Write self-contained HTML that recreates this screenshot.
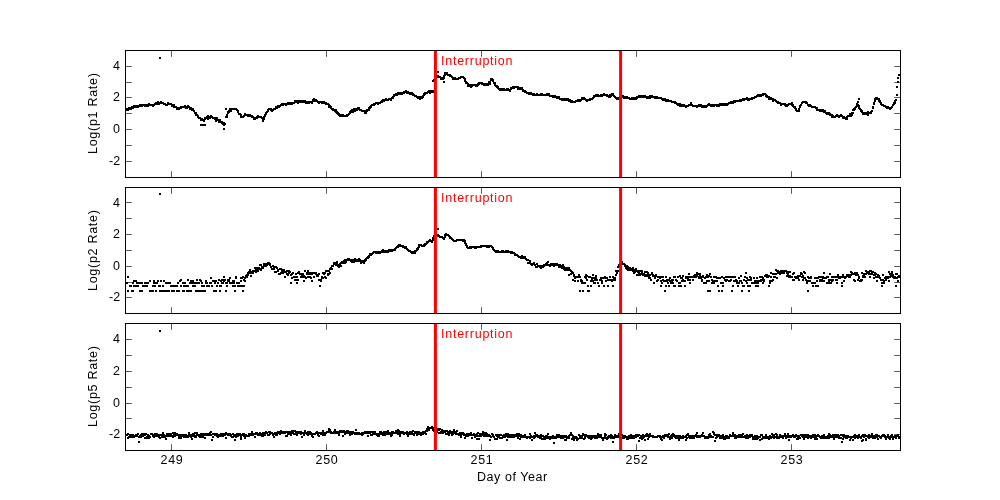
<!DOCTYPE html><html><head><meta charset="utf-8"><title>plot</title><style>
html,body{margin:0;padding:0;background:#fff}
#f{position:relative;width:1000px;height:500px;overflow:hidden;background:#fff;font-family:"Liberation Sans",sans-serif;font-size:12.5px;color:#000}
.t{position:absolute;white-space:nowrap;line-height:1;will-change:transform}
.yl{position:absolute;white-space:nowrap;line-height:1;transform-origin:0 0;transform:rotate(-90deg);will-change:transform}
</style></head><body><div id="f">
<svg width="1000" height="500" viewBox="0 0 1000 500" style="position:absolute;left:0;top:0"><rect width="1000" height="500" fill="#fff"/><path d="M126 108h2v2h-2zM126 109h2v2h-2zM127 109h2v2h-2zM128 108h2v2h-2zM128 107h2v2h-2zM129 108h2v2h-2zM129 107h2v2h-2zM130 107h2v2h-2zM130 108h2v2h-2zM131 106h2v2h-2zM131 107h2v2h-2zM132 107h2v2h-2zM133 106h2v2h-2zM133 105h2v2h-2zM134 106h2v2h-2zM134 105h2v2h-2zM135 105h2v2h-2zM135 106h2v2h-2zM136 106h2v2h-2zM137 106h2v2h-2zM137 105h2v2h-2zM138 105h2v2h-2zM139 104h2v2h-2zM140 105h2v2h-2zM141 105h2v2h-2zM141 104h2v2h-2zM142 104h2v2h-2zM143 104h2v2h-2zM144 104h2v2h-2zM144 105h2v2h-2zM145 104h2v2h-2zM146 105h2v2h-2zM146 104h2v2h-2zM147 105h2v2h-2zM148 103h2v2h-2zM149 104h2v2h-2zM150 104h2v2h-2zM151 104h2v2h-2zM152 105h2v2h-2zM153 104h2v2h-2zM154 103h2v2h-2zM155 103h2v2h-2zM155 102h2v2h-2zM156 103h2v2h-2zM156 102h2v2h-2zM157 103h2v2h-2zM157 101h2v2h-2zM158 103h2v2h-2zM158 102h2v2h-2zM159 102h2v2h-2zM160 101h2v2h-2zM160 102h2v2h-2zM161 102h2v2h-2zM162 102h2v2h-2zM163 103h2v2h-2zM164 103h2v2h-2zM165 104h2v2h-2zM166 104h2v2h-2zM167 102h2v2h-2zM167 103h2v2h-2zM168 103h2v2h-2zM169 103h2v2h-2zM170 103h2v2h-2zM171 104h2v2h-2zM171 105h2v2h-2zM172 104h2v2h-2zM173 104h2v2h-2zM173 106h2v2h-2zM174 106h2v2h-2zM175 106h2v2h-2zM176 108h2v2h-2zM176 107h2v2h-2zM177 107h2v2h-2zM178 107h2v2h-2zM178 108h2v2h-2zM179 107h2v2h-2zM180 107h2v2h-2zM180 106h2v2h-2zM181 106h2v2h-2zM182 106h2v2h-2zM183 106h2v2h-2zM184 105h2v2h-2zM184 106h2v2h-2zM185 107h2v2h-2zM185 106h2v2h-2zM186 107h2v2h-2zM187 105h2v2h-2zM187 106h2v2h-2zM188 106h2v2h-2zM189 107h2v2h-2zM189 108h2v2h-2zM190 107h2v2h-2zM190 108h2v2h-2zM191 109h2v2h-2zM191 108h2v2h-2zM192 108h2v2h-2zM193 110h2v2h-2zM194 112h2v2h-2zM195 112h2v2h-2zM195 114h2v2h-2zM196 114h2v2h-2zM197 115h2v2h-2zM197 116h2v2h-2zM198 117h2v2h-2zM199 117h2v2h-2zM200 119h2v2h-2zM201 119h2v2h-2zM201 118h2v2h-2zM202 119h2v2h-2zM203 120h2v2h-2zM203 119h2v2h-2zM204 118h2v2h-2zM204 117h2v2h-2zM205 117h2v2h-2zM206 116h2v2h-2zM207 118h2v2h-2zM207 115h2v2h-2zM208 116h2v2h-2zM209 117h2v2h-2zM209 116h2v2h-2zM210 115h2v2h-2zM210 116h2v2h-2zM211 116h2v2h-2zM212 117h2v2h-2zM213 117h2v2h-2zM214 117h2v2h-2zM214 118h2v2h-2zM215 120h2v2h-2zM215 118h2v2h-2zM216 117h2v2h-2zM216 119h2v2h-2zM217 119h2v2h-2zM218 121h2v2h-2zM218 119h2v2h-2zM219 119h2v2h-2zM220 121h2v2h-2zM221 121h2v2h-2zM221 122h2v2h-2zM222 122h2v2h-2zM222 123h2v2h-2zM223 122h2v2h-2zM223 124h2v2h-2zM224 123h2v2h-2zM225 116h2v2h-2zM226 116h2v2h-2zM226 114h2v2h-2zM227 112h2v2h-2zM227 111h2v2h-2zM228 111h2v2h-2zM228 110h2v2h-2zM229 110h2v2h-2zM229 108h2v2h-2zM230 109h2v2h-2zM230 110h2v2h-2zM231 108h2v2h-2zM232 108h2v2h-2zM233 108h2v2h-2zM234 108h2v2h-2zM235 108h2v2h-2zM236 109h2v2h-2zM237 110h2v2h-2zM237 111h2v2h-2zM238 113h2v2h-2zM239 113h2v2h-2zM240 114h2v2h-2zM240 116h2v2h-2zM241 116h2v2h-2zM242 116h2v2h-2zM243 115h2v2h-2zM244 114h2v2h-2zM244 113h2v2h-2zM245 114h2v2h-2zM246 114h2v2h-2zM247 115h2v2h-2zM247 114h2v2h-2zM248 115h2v2h-2zM248 114h2v2h-2zM249 114h2v2h-2zM249 115h2v2h-2zM250 115h2v2h-2zM251 116h2v2h-2zM251 115h2v2h-2zM252 116h2v2h-2zM253 117h2v2h-2zM253 118h2v2h-2zM254 118h2v2h-2zM254 117h2v2h-2zM255 117h2v2h-2zM256 117h2v2h-2zM256 116h2v2h-2zM257 116h2v2h-2zM257 115h2v2h-2zM258 116h2v2h-2zM259 116h2v2h-2zM260 116h2v2h-2zM261 117h2v2h-2zM262 120h2v2h-2zM262 118h2v2h-2zM263 118h2v2h-2zM263 116h2v2h-2zM264 115h2v2h-2zM264 114h2v2h-2zM265 113h2v2h-2zM265 112h2v2h-2zM266 111h2v2h-2zM267 109h2v2h-2zM267 110h2v2h-2zM268 108h2v2h-2zM269 108h2v2h-2zM270 109h2v2h-2zM270 108h2v2h-2zM271 110h2v2h-2zM271 109h2v2h-2zM272 109h2v2h-2zM273 108h2v2h-2zM274 108h2v2h-2zM275 107h2v2h-2zM275 106h2v2h-2zM276 107h2v2h-2zM276 106h2v2h-2zM277 105h2v2h-2zM278 106h2v2h-2zM278 105h2v2h-2zM279 105h2v2h-2zM280 104h2v2h-2zM281 104h2v2h-2zM281 103h2v2h-2zM282 104h2v2h-2zM283 103h2v2h-2zM284 103h2v2h-2zM285 104h2v2h-2zM285 103h2v2h-2zM286 103h2v2h-2zM287 103h2v2h-2zM287 102h2v2h-2zM288 102h2v2h-2zM288 103h2v2h-2zM289 102h2v2h-2zM290 102h2v2h-2zM290 103h2v2h-2zM291 103h2v2h-2zM291 102h2v2h-2zM292 102h2v2h-2zM293 102h2v2h-2zM294 100h2v2h-2zM294 101h2v2h-2zM295 100h2v2h-2zM295 101h2v2h-2zM296 100h2v2h-2zM297 101h2v2h-2zM297 102h2v2h-2zM298 101h2v2h-2zM298 100h2v2h-2zM299 101h2v2h-2zM300 100h2v2h-2zM300 101h2v2h-2zM301 100h2v2h-2zM302 100h2v2h-2zM302 101h2v2h-2zM303 101h2v2h-2zM304 101h2v2h-2zM304 100h2v2h-2zM305 101h2v2h-2zM305 102h2v2h-2zM306 102h2v2h-2zM307 101h2v2h-2zM308 102h2v2h-2zM308 101h2v2h-2zM309 101h2v2h-2zM310 101h2v2h-2zM311 102h2v2h-2zM311 101h2v2h-2zM312 99h2v2h-2zM312 100h2v2h-2zM313 98h2v2h-2zM314 100h2v2h-2zM314 99h2v2h-2zM315 99h2v2h-2zM316 100h2v2h-2zM317 101h2v2h-2zM318 101h2v2h-2zM318 102h2v2h-2zM319 101h2v2h-2zM320 101h2v2h-2zM321 101h2v2h-2zM321 102h2v2h-2zM322 102h2v2h-2zM323 101h2v2h-2zM323 102h2v2h-2zM324 102h2v2h-2zM325 103h2v2h-2zM325 102h2v2h-2zM326 103h2v2h-2zM327 103h2v2h-2zM328 104h2v2h-2zM328 106h2v2h-2zM329 105h2v2h-2zM329 106h2v2h-2zM330 106h2v2h-2zM330 107h2v2h-2zM331 108h2v2h-2zM332 108h2v2h-2zM332 109h2v2h-2zM333 109h2v2h-2zM334 109h2v2h-2zM334 110h2v2h-2zM335 109h2v2h-2zM335 111h2v2h-2zM336 111h2v2h-2zM336 112h2v2h-2zM337 112h2v2h-2zM337 113h2v2h-2zM338 113h2v2h-2zM338 114h2v2h-2zM339 114h2v2h-2zM339 115h2v2h-2zM340 114h2v2h-2zM341 115h2v2h-2zM341 114h2v2h-2zM342 114h2v2h-2zM343 115h2v2h-2zM344 115h2v2h-2zM345 115h2v2h-2zM346 115h2v2h-2zM346 114h2v2h-2zM347 114h2v2h-2zM348 113h2v2h-2zM349 112h2v2h-2zM349 111h2v2h-2zM350 110h2v2h-2zM351 109h2v2h-2zM351 111h2v2h-2zM352 109h2v2h-2zM352 111h2v2h-2zM353 108h2v2h-2zM354 110h2v2h-2zM354 109h2v2h-2zM355 108h2v2h-2zM355 109h2v2h-2zM356 109h2v2h-2zM357 107h2v2h-2zM357 108h2v2h-2zM358 108h2v2h-2zM358 107h2v2h-2zM359 109h2v2h-2zM360 109h2v2h-2zM361 110h2v2h-2zM362 110h2v2h-2zM363 110h2v2h-2zM364 111h2v2h-2zM364 112h2v2h-2zM365 112h2v2h-2zM365 110h2v2h-2zM366 110h2v2h-2zM366 109h2v2h-2zM367 109h2v2h-2zM368 109h2v2h-2zM368 107h2v2h-2zM369 107h2v2h-2zM369 106h2v2h-2zM370 106h2v2h-2zM370 105h2v2h-2zM371 104h2v2h-2zM372 104h2v2h-2zM373 104h2v2h-2zM373 103h2v2h-2zM374 103h2v2h-2zM375 102h2v2h-2zM376 102h2v2h-2zM377 103h2v2h-2zM377 102h2v2h-2zM378 102h2v2h-2zM379 102h2v2h-2zM380 101h2v2h-2zM381 101h2v2h-2zM381 100h2v2h-2zM382 100h2v2h-2zM382 99h2v2h-2zM383 100h2v2h-2zM383 99h2v2h-2zM384 99h2v2h-2zM385 99h2v2h-2zM385 98h2v2h-2zM386 99h2v2h-2zM387 99h2v2h-2zM388 98h2v2h-2zM389 98h2v2h-2zM390 99h2v2h-2zM390 98h2v2h-2zM391 97h2v2h-2zM392 97h2v2h-2zM392 96h2v2h-2zM393 95h2v2h-2zM393 94h2v2h-2zM394 94h2v2h-2zM395 94h2v2h-2zM395 93h2v2h-2zM396 94h2v2h-2zM396 93h2v2h-2zM397 92h2v2h-2zM397 93h2v2h-2zM398 93h2v2h-2zM399 92h2v2h-2zM399 93h2v2h-2zM400 92h2v2h-2zM401 93h2v2h-2zM402 92h2v2h-2zM403 92h2v2h-2zM403 91h2v2h-2zM404 91h2v2h-2zM405 90h2v2h-2zM405 91h2v2h-2zM406 91h2v2h-2zM406 92h2v2h-2zM407 91h2v2h-2zM408 92h2v2h-2zM409 92h2v2h-2zM409 93h2v2h-2zM410 92h2v2h-2zM410 93h2v2h-2zM411 92h2v2h-2zM411 93h2v2h-2zM412 93h2v2h-2zM412 94h2v2h-2zM413 94h2v2h-2zM414 95h2v2h-2zM415 95h2v2h-2zM416 96h2v2h-2zM417 97h2v2h-2zM418 96h2v2h-2zM419 98h2v2h-2zM419 96h2v2h-2zM420 96h2v2h-2zM420 97h2v2h-2zM421 97h2v2h-2zM422 96h2v2h-2zM422 95h2v2h-2zM423 94h2v2h-2zM423 93h2v2h-2zM424 93h2v2h-2zM424 92h2v2h-2zM425 92h2v2h-2zM426 92h2v2h-2zM427 91h2v2h-2zM428 90h2v2h-2zM429 92h2v2h-2zM429 90h2v2h-2zM430 91h2v2h-2zM430 90h2v2h-2zM431 91h2v2h-2zM432 90h2v2h-2zM432 91h2v2h-2zM432 80h2v2h-2zM433 79h2v2h-2zM434 78h2v2h-2zM434 77h2v2h-2zM435 77h2v2h-2zM435 76h2v2h-2zM436 76h2v2h-2zM436 75h2v2h-2zM437 75h2v2h-2zM438 76h2v2h-2zM439 76h2v2h-2zM440 78h2v2h-2zM441 77h2v2h-2zM441 78h2v2h-2zM442 78h2v2h-2zM443 77h2v2h-2zM443 75h2v2h-2zM444 74h2v2h-2zM444 72h2v2h-2zM445 72h2v2h-2zM446 73h2v2h-2zM446 72h2v2h-2zM447 74h2v2h-2zM448 74h2v2h-2zM449 74h2v2h-2zM449 75h2v2h-2zM450 75h2v2h-2zM451 76h2v2h-2zM452 78h2v2h-2zM453 77h2v2h-2zM453 78h2v2h-2zM454 78h2v2h-2zM454 77h2v2h-2zM455 78h2v2h-2zM456 78h2v2h-2zM457 78h2v2h-2zM458 77h2v2h-2zM459 77h2v2h-2zM460 76h2v2h-2zM461 76h2v2h-2zM462 76h2v2h-2zM463 77h2v2h-2zM464 78h2v2h-2zM464 80h2v2h-2zM465 81h2v2h-2zM465 82h2v2h-2zM466 82h2v2h-2zM467 83h2v2h-2zM467 85h2v2h-2zM468 85h2v2h-2zM468 84h2v2h-2zM469 84h2v2h-2zM469 85h2v2h-2zM470 85h2v2h-2zM470 86h2v2h-2zM471 84h2v2h-2zM471 85h2v2h-2zM472 84h2v2h-2zM473 84h2v2h-2zM474 84h2v2h-2zM475 84h2v2h-2zM475 85h2v2h-2zM476 85h2v2h-2zM476 84h2v2h-2zM477 84h2v2h-2zM477 83h2v2h-2zM478 82h2v2h-2zM478 83h2v2h-2zM479 82h2v2h-2zM480 82h2v2h-2zM481 82h2v2h-2zM481 83h2v2h-2zM482 83h2v2h-2zM483 83h2v2h-2zM483 84h2v2h-2zM484 84h2v2h-2zM485 84h2v2h-2zM485 83h2v2h-2zM486 84h2v2h-2zM487 84h2v2h-2zM487 83h2v2h-2zM488 81h2v2h-2zM488 82h2v2h-2zM489 83h2v2h-2zM489 81h2v2h-2zM490 79h2v2h-2zM490 78h2v2h-2zM491 78h2v2h-2zM492 79h2v2h-2zM492 80h2v2h-2zM493 82h2v2h-2zM494 82h2v2h-2zM494 84h2v2h-2zM495 85h2v2h-2zM496 85h2v2h-2zM496 86h2v2h-2zM497 86h2v2h-2zM497 87h2v2h-2zM498 88h2v2h-2zM499 89h2v2h-2zM500 88h2v2h-2zM501 89h2v2h-2zM501 88h2v2h-2zM502 89h2v2h-2zM502 88h2v2h-2zM503 88h2v2h-2zM504 89h2v2h-2zM505 89h2v2h-2zM506 88h2v2h-2zM507 89h2v2h-2zM507 88h2v2h-2zM508 89h2v2h-2zM509 89h2v2h-2zM509 90h2v2h-2zM510 88h2v2h-2zM510 87h2v2h-2zM511 87h2v2h-2zM512 87h2v2h-2zM512 86h2v2h-2zM513 87h2v2h-2zM514 86h2v2h-2zM515 86h2v2h-2zM516 86h2v2h-2zM517 86h2v2h-2zM517 88h2v2h-2zM518 88h2v2h-2zM519 87h2v2h-2zM519 88h2v2h-2zM520 88h2v2h-2zM521 87h2v2h-2zM521 88h2v2h-2zM522 90h2v2h-2zM522 89h2v2h-2zM523 90h2v2h-2zM524 91h2v2h-2zM524 90h2v2h-2zM525 91h2v2h-2zM526 92h2v2h-2zM527 92h2v2h-2zM528 93h2v2h-2zM528 92h2v2h-2zM529 92h2v2h-2zM529 93h2v2h-2zM530 93h2v2h-2zM530 92h2v2h-2zM531 93h2v2h-2zM532 94h2v2h-2zM532 93h2v2h-2zM533 93h2v2h-2zM534 94h2v2h-2zM535 94h2v2h-2zM536 94h2v2h-2zM536 93h2v2h-2zM537 94h2v2h-2zM538 94h2v2h-2zM539 94h2v2h-2zM540 93h2v2h-2zM541 93h2v2h-2zM541 94h2v2h-2zM542 94h2v2h-2zM543 94h2v2h-2zM544 94h2v2h-2zM545 94h2v2h-2zM546 93h2v2h-2zM546 94h2v2h-2zM547 93h2v2h-2zM548 94h2v2h-2zM548 93h2v2h-2zM549 95h2v2h-2zM550 95h2v2h-2zM551 95h2v2h-2zM552 96h2v2h-2zM552 95h2v2h-2zM553 96h2v2h-2zM554 95h2v2h-2zM554 96h2v2h-2zM555 96h2v2h-2zM556 97h2v2h-2zM556 96h2v2h-2zM557 97h2v2h-2zM558 96h2v2h-2zM558 97h2v2h-2zM559 98h2v2h-2zM560 98h2v2h-2zM561 98h2v2h-2zM561 99h2v2h-2zM562 98h2v2h-2zM563 99h2v2h-2zM563 98h2v2h-2zM564 98h2v2h-2zM565 99h2v2h-2zM565 98h2v2h-2zM566 99h2v2h-2zM566 98h2v2h-2zM567 98h2v2h-2zM568 99h2v2h-2zM568 100h2v2h-2zM569 99h2v2h-2zM569 100h2v2h-2zM570 100h2v2h-2zM570 101h2v2h-2zM571 100h2v2h-2zM572 101h2v2h-2zM573 101h2v2h-2zM574 101h2v2h-2zM575 100h2v2h-2zM576 100h2v2h-2zM577 100h2v2h-2zM577 99h2v2h-2zM578 100h2v2h-2zM578 99h2v2h-2zM579 100h2v2h-2zM579 99h2v2h-2zM580 99h2v2h-2zM581 98h2v2h-2zM581 97h2v2h-2zM582 98h2v2h-2zM583 97h2v2h-2zM583 98h2v2h-2zM584 98h2v2h-2zM585 99h2v2h-2zM586 99h2v2h-2zM586 100h2v2h-2zM587 99h2v2h-2zM588 99h2v2h-2zM589 98h2v2h-2zM589 99h2v2h-2zM590 98h2v2h-2zM591 98h2v2h-2zM592 97h2v2h-2zM593 96h2v2h-2zM593 95h2v2h-2zM594 95h2v2h-2zM595 95h2v2h-2zM595 94h2v2h-2zM596 95h2v2h-2zM596 94h2v2h-2zM597 95h2v2h-2zM597 94h2v2h-2zM598 95h2v2h-2zM599 95h2v2h-2zM600 94h2v2h-2zM600 95h2v2h-2zM601 95h2v2h-2zM602 94h2v2h-2zM603 93h2v2h-2zM603 94h2v2h-2zM604 94h2v2h-2zM605 94h2v2h-2zM606 95h2v2h-2zM606 94h2v2h-2zM607 95h2v2h-2zM608 95h2v2h-2zM608 96h2v2h-2zM609 96h2v2h-2zM609 94h2v2h-2zM610 95h2v2h-2zM610 94h2v2h-2zM611 93h2v2h-2zM612 93h2v2h-2zM612 94h2v2h-2zM613 95h2v2h-2zM614 96h2v2h-2zM615 97h2v2h-2zM616 98h2v2h-2zM617 97h2v2h-2zM617 98h2v2h-2zM618 98h2v2h-2zM619 96h2v2h-2zM620 95h2v2h-2zM621 95h2v2h-2zM622 95h2v2h-2zM622 96h2v2h-2zM623 96h2v2h-2zM623 97h2v2h-2zM624 97h2v2h-2zM625 96h2v2h-2zM625 97h2v2h-2zM626 96h2v2h-2zM626 97h2v2h-2zM627 97h2v2h-2zM628 97h2v2h-2zM629 98h2v2h-2zM630 98h2v2h-2zM631 98h2v2h-2zM631 97h2v2h-2zM632 98h2v2h-2zM632 97h2v2h-2zM633 97h2v2h-2zM633 98h2v2h-2zM634 98h2v2h-2zM635 98h2v2h-2zM635 97h2v2h-2zM636 97h2v2h-2zM636 96h2v2h-2zM637 96h2v2h-2zM638 95h2v2h-2zM638 96h2v2h-2zM639 96h2v2h-2zM640 96h2v2h-2zM640 95h2v2h-2zM641 95h2v2h-2zM642 96h2v2h-2zM642 95h2v2h-2zM643 95h2v2h-2zM643 96h2v2h-2zM644 96h2v2h-2zM644 95h2v2h-2zM645 96h2v2h-2zM646 97h2v2h-2zM647 96h2v2h-2zM648 97h2v2h-2zM649 97h2v2h-2zM649 95h2v2h-2zM650 95h2v2h-2zM651 95h2v2h-2zM651 96h2v2h-2zM652 96h2v2h-2zM653 96h2v2h-2zM654 96h2v2h-2zM654 97h2v2h-2zM655 96h2v2h-2zM656 97h2v2h-2zM656 96h2v2h-2zM657 97h2v2h-2zM658 97h2v2h-2zM659 97h2v2h-2zM660 97h2v2h-2zM661 98h2v2h-2zM662 98h2v2h-2zM662 99h2v2h-2zM663 99h2v2h-2zM663 98h2v2h-2zM664 98h2v2h-2zM665 99h2v2h-2zM665 100h2v2h-2zM666 99h2v2h-2zM667 99h2v2h-2zM667 100h2v2h-2zM668 100h2v2h-2zM669 100h2v2h-2zM670 100h2v2h-2zM671 101h2v2h-2zM672 101h2v2h-2zM673 101h2v2h-2zM674 101h2v2h-2zM674 102h2v2h-2zM675 102h2v2h-2zM676 103h2v2h-2zM677 104h2v2h-2zM678 103h2v2h-2zM678 104h2v2h-2zM679 103h2v2h-2zM679 105h2v2h-2zM680 104h2v2h-2zM681 105h2v2h-2zM681 104h2v2h-2zM682 104h2v2h-2zM683 105h2v2h-2zM683 104h2v2h-2zM684 105h2v2h-2zM685 106h2v2h-2zM685 105h2v2h-2zM686 105h2v2h-2zM687 105h2v2h-2zM688 104h2v2h-2zM689 104h2v2h-2zM690 103h2v2h-2zM690 102h2v2h-2zM691 104h2v2h-2zM692 105h2v2h-2zM693 105h2v2h-2zM694 105h2v2h-2zM695 105h2v2h-2zM696 106h2v2h-2zM696 105h2v2h-2zM697 105h2v2h-2zM698 104h2v2h-2zM699 105h2v2h-2zM699 104h2v2h-2zM700 105h2v2h-2zM700 104h2v2h-2zM701 105h2v2h-2zM701 106h2v2h-2zM702 105h2v2h-2zM703 105h2v2h-2zM703 106h2v2h-2zM704 106h2v2h-2zM705 105h2v2h-2zM705 106h2v2h-2zM706 105h2v2h-2zM707 104h2v2h-2zM708 103h2v2h-2zM708 104h2v2h-2zM709 104h2v2h-2zM710 105h2v2h-2zM710 104h2v2h-2zM711 105h2v2h-2zM712 104h2v2h-2zM713 104h2v2h-2zM713 105h2v2h-2zM714 104h2v2h-2zM715 104h2v2h-2zM716 105h2v2h-2zM716 104h2v2h-2zM717 104h2v2h-2zM718 105h2v2h-2zM718 104h2v2h-2zM719 103h2v2h-2zM719 104h2v2h-2zM720 103h2v2h-2zM721 104h2v2h-2zM721 103h2v2h-2zM722 104h2v2h-2zM723 104h2v2h-2zM723 103h2v2h-2zM724 103h2v2h-2zM724 104h2v2h-2zM725 104h2v2h-2zM725 103h2v2h-2zM726 103h2v2h-2zM726 104h2v2h-2zM727 103h2v2h-2zM728 102h2v2h-2zM729 102h2v2h-2zM730 101h2v2h-2zM731 101h2v2h-2zM731 102h2v2h-2zM732 101h2v2h-2zM732 102h2v2h-2zM733 100h2v2h-2zM734 101h2v2h-2zM735 100h2v2h-2zM736 100h2v2h-2zM737 100h2v2h-2zM738 100h2v2h-2zM739 100h2v2h-2zM739 99h2v2h-2zM740 100h2v2h-2zM741 99h2v2h-2zM742 98h2v2h-2zM743 99h2v2h-2zM743 98h2v2h-2zM744 98h2v2h-2zM745 98h2v2h-2zM746 98h2v2h-2zM746 97h2v2h-2zM747 99h2v2h-2zM747 98h2v2h-2zM748 99h2v2h-2zM749 98h2v2h-2zM750 98h2v2h-2zM751 97h2v2h-2zM751 98h2v2h-2zM752 97h2v2h-2zM753 97h2v2h-2zM754 96h2v2h-2zM755 96h2v2h-2zM756 95h2v2h-2zM757 94h2v2h-2zM757 95h2v2h-2zM758 95h2v2h-2zM759 94h2v2h-2zM759 95h2v2h-2zM760 95h2v2h-2zM760 94h2v2h-2zM761 94h2v2h-2zM762 94h2v2h-2zM762 93h2v2h-2zM763 93h2v2h-2zM764 93h2v2h-2zM765 94h2v2h-2zM765 95h2v2h-2zM766 95h2v2h-2zM766 96h2v2h-2zM767 96h2v2h-2zM768 98h2v2h-2zM768 96h2v2h-2zM769 97h2v2h-2zM770 98h2v2h-2zM770 97h2v2h-2zM771 98h2v2h-2zM772 98h2v2h-2zM772 100h2v2h-2zM773 99h2v2h-2zM774 99h2v2h-2zM775 100h2v2h-2zM776 101h2v2h-2zM777 101h2v2h-2zM777 102h2v2h-2zM778 102h2v2h-2zM779 102h2v2h-2zM780 104h2v2h-2zM780 103h2v2h-2zM781 103h2v2h-2zM782 103h2v2h-2zM783 103h2v2h-2zM784 103h2v2h-2zM784 104h2v2h-2zM785 104h2v2h-2zM785 105h2v2h-2zM786 105h2v2h-2zM786 104h2v2h-2zM787 104h2v2h-2zM788 103h2v2h-2zM789 103h2v2h-2zM790 103h2v2h-2zM791 102h2v2h-2zM791 104h2v2h-2zM792 104h2v2h-2zM792 105h2v2h-2zM793 106h2v2h-2zM794 106h2v2h-2zM794 107h2v2h-2zM795 109h2v2h-2zM795 108h2v2h-2zM796 110h2v2h-2zM797 110h2v2h-2zM798 110h2v2h-2zM798 108h2v2h-2zM799 106h2v2h-2zM799 105h2v2h-2zM800 104h2v2h-2zM801 102h2v2h-2zM802 101h2v2h-2zM803 101h2v2h-2zM804 101h2v2h-2zM805 102h2v2h-2zM805 101h2v2h-2zM806 102h2v2h-2zM807 104h2v2h-2zM808 104h2v2h-2zM808 105h2v2h-2zM809 104h2v2h-2zM809 105h2v2h-2zM810 105h2v2h-2zM811 106h2v2h-2zM812 106h2v2h-2zM813 106h2v2h-2zM814 106h2v2h-2zM815 107h2v2h-2zM816 107h2v2h-2zM816 109h2v2h-2zM817 109h2v2h-2zM818 109h2v2h-2zM819 110h2v2h-2zM819 109h2v2h-2zM820 110h2v2h-2zM820 109h2v2h-2zM821 109h2v2h-2zM822 109h2v2h-2zM822 110h2v2h-2zM823 111h2v2h-2zM824 110h2v2h-2zM824 111h2v2h-2zM825 112h2v2h-2zM826 112h2v2h-2zM826 113h2v2h-2zM827 113h2v2h-2zM828 112h2v2h-2zM828 113h2v2h-2zM829 114h2v2h-2zM829 113h2v2h-2zM830 114h2v2h-2zM831 114h2v2h-2zM831 116h2v2h-2zM832 115h2v2h-2zM832 116h2v2h-2zM833 116h2v2h-2zM834 116h2v2h-2zM835 115h2v2h-2zM836 114h2v2h-2zM837 115h2v2h-2zM838 116h2v2h-2zM839 115h2v2h-2zM840 114h2v2h-2zM840 115h2v2h-2zM841 115h2v2h-2zM842 116h2v2h-2zM842 117h2v2h-2zM843 116h2v2h-2zM844 117h2v2h-2zM845 117h2v2h-2zM845 118h2v2h-2zM846 118h2v2h-2zM846 116h2v2h-2zM847 115h2v2h-2zM848 115h2v2h-2zM849 115h2v2h-2zM849 113h2v2h-2zM850 115h2v2h-2zM851 114h2v2h-2zM851 112h2v2h-2zM852 112h2v2h-2zM852 109h2v2h-2zM853 109h2v2h-2zM853 108h2v2h-2zM854 108h2v2h-2zM854 107h2v2h-2zM855 106h2v2h-2zM856 105h2v2h-2zM856 103h2v2h-2zM857 104h2v2h-2zM858 105h2v2h-2zM858 107h2v2h-2zM859 108h2v2h-2zM860 109h2v2h-2zM860 110h2v2h-2zM861 111h2v2h-2zM861 110h2v2h-2zM862 112h2v2h-2zM862 113h2v2h-2zM863 112h2v2h-2zM863 113h2v2h-2zM864 112h2v2h-2zM865 113h2v2h-2zM865 112h2v2h-2zM866 113h2v2h-2zM867 114h2v2h-2zM867 111h2v2h-2zM868 112h2v2h-2zM869 112h2v2h-2zM870 112h2v2h-2zM870 111h2v2h-2zM871 110h2v2h-2zM872 107h2v2h-2zM872 106h2v2h-2zM873 103h2v2h-2zM873 102h2v2h-2zM874 100h2v2h-2zM874 98h2v2h-2zM875 98h2v2h-2zM875 97h2v2h-2zM876 97h2v2h-2zM877 98h2v2h-2zM878 98h2v2h-2zM878 100h2v2h-2zM879 101h2v2h-2zM879 100h2v2h-2zM880 102h2v2h-2zM880 103h2v2h-2zM881 104h2v2h-2zM882 104h2v2h-2zM883 105h2v2h-2zM884 105h2v2h-2zM885 106h2v2h-2zM886 107h2v2h-2zM886 106h2v2h-2zM887 106h2v2h-2zM887 107h2v2h-2zM888 107h2v2h-2zM889 108h2v2h-2zM889 107h2v2h-2zM890 107h2v2h-2zM891 106h2v2h-2zM892 104h2v2h-2zM893 103h2v2h-2zM893 102h2v2h-2zM894 102h2v2h-2zM894 100h2v2h-2zM895 99h2v2h-2zM223 128h2v2h-2zM225 108h2v2h-2zM200 124h2v2h-2zM201 124h2v2h-2zM203 124h2v2h-2zM204 124h2v2h-2zM437 71h2v2h-2zM443 81h2v2h-2zM858 98h2v2h-2zM896 94h2v2h-2zM896 86h2v2h-2zM897 81h2v2h-2zM897 77h2v2h-2zM898 74h2v2h-2zM159 57h2v2h-2zM857 101h2v2h-2z" fill="#000" shape-rendering="crispEdges"/><path d="M126 282h2v2h-2zM127 290h2v2h-2zM127 276h2v2h-2zM129 285h2v2h-2zM130 285h2v2h-2zM131 290h2v2h-2zM132 290h2v2h-2zM132 282h2v2h-2zM133 280h2v2h-2zM133 285h2v2h-2zM134 285h2v2h-2zM135 280h2v2h-2zM136 282h2v2h-2zM136 285h2v2h-2zM137 285h2v2h-2zM138 282h2v2h-2zM139 282h2v2h-2zM139 290h2v2h-2zM140 282h2v2h-2zM140 290h2v2h-2zM141 282h2v2h-2zM141 290h2v2h-2zM142 285h2v2h-2zM143 285h2v2h-2zM144 282h2v2h-2zM144 285h2v2h-2zM145 285h2v2h-2zM146 285h2v2h-2zM146 282h2v2h-2zM147 282h2v2h-2zM149 290h2v2h-2zM149 280h2v2h-2zM151 290h2v2h-2zM152 290h2v2h-2zM152 285h2v2h-2zM153 282h2v2h-2zM153 280h2v2h-2zM154 285h2v2h-2zM154 282h2v2h-2zM155 282h2v2h-2zM155 290h2v2h-2zM156 282h2v2h-2zM157 280h2v2h-2zM158 285h2v2h-2zM159 290h2v2h-2zM159 285h2v2h-2zM160 280h2v2h-2zM160 290h2v2h-2zM161 290h2v2h-2zM162 290h2v2h-2zM162 285h2v2h-2zM163 280h2v2h-2zM163 290h2v2h-2zM164 290h2v2h-2zM165 282h2v2h-2zM166 282h2v2h-2zM166 290h2v2h-2zM167 282h2v2h-2zM168 282h2v2h-2zM168 290h2v2h-2zM169 282h2v2h-2zM170 285h2v2h-2zM171 290h2v2h-2zM171 285h2v2h-2zM172 290h2v2h-2zM173 290h2v2h-2zM173 285h2v2h-2zM174 285h2v2h-2zM176 290h2v2h-2zM176 285h2v2h-2zM177 282h2v2h-2zM178 290h2v2h-2zM179 280h2v2h-2zM180 285h2v2h-2zM180 279h2v2h-2zM182 282h2v2h-2zM182 290h2v2h-2zM183 290h2v2h-2zM183 285h2v2h-2zM184 282h2v2h-2zM185 285h2v2h-2zM186 290h2v2h-2zM187 285h2v2h-2zM187 279h2v2h-2zM188 290h2v2h-2zM189 290h2v2h-2zM189 282h2v2h-2zM190 280h2v2h-2zM190 290h2v2h-2zM191 282h2v2h-2zM192 280h2v2h-2zM192 285h2v2h-2zM193 282h2v2h-2zM194 285h2v2h-2zM195 290h2v2h-2zM195 282h2v2h-2zM196 279h2v2h-2zM196 282h2v2h-2zM197 290h2v2h-2zM198 282h2v2h-2zM199 279h2v2h-2zM199 290h2v2h-2zM200 290h2v2h-2zM200 280h2v2h-2zM201 285h2v2h-2zM201 282h2v2h-2zM202 285h2v2h-2zM202 290h2v2h-2zM203 285h2v2h-2zM203 290h2v2h-2zM204 290h2v2h-2zM205 282h2v2h-2zM205 280h2v2h-2zM206 282h2v2h-2zM206 285h2v2h-2zM207 285h2v2h-2zM208 285h2v2h-2zM209 282h2v2h-2zM210 282h2v2h-2zM210 277h2v2h-2zM211 285h2v2h-2zM212 280h2v2h-2zM213 280h2v2h-2zM213 290h2v2h-2zM214 290h2v2h-2zM214 282h2v2h-2zM215 290h2v2h-2zM215 280h2v2h-2zM216 285h2v2h-2zM217 282h2v2h-2zM218 279h2v2h-2zM219 285h2v2h-2zM219 290h2v2h-2zM220 280h2v2h-2zM220 285h2v2h-2zM221 279h2v2h-2zM221 282h2v2h-2zM222 279h2v2h-2zM222 282h2v2h-2zM223 280h2v2h-2zM223 276h2v2h-2zM224 279h2v2h-2zM225 282h2v2h-2zM225 290h2v2h-2zM226 282h2v2h-2zM226 285h2v2h-2zM227 280h2v2h-2zM227 279h2v2h-2zM228 280h2v2h-2zM228 279h2v2h-2zM229 282h2v2h-2zM229 277h2v2h-2zM230 282h2v2h-2zM231 282h2v2h-2zM232 280h2v2h-2zM232 285h2v2h-2zM233 280h2v2h-2zM233 282h2v2h-2zM234 285h2v2h-2zM234 290h2v2h-2zM235 276h2v2h-2zM235 277h2v2h-2zM236 282h2v2h-2zM237 285h2v2h-2zM237 282h2v2h-2zM238 282h2v2h-2zM239 285h2v2h-2zM240 280h2v2h-2zM240 277h2v2h-2zM241 277h2v2h-2zM241 285h2v2h-2zM242 290h2v2h-2zM242 276h2v2h-2zM243 279h2v2h-2zM243 285h2v2h-2zM244 280h2v2h-2zM244 277h2v2h-2zM245 275h2v2h-2zM246 274h2v2h-2zM246 276h2v2h-2zM247 274h2v2h-2zM247 272h2v2h-2zM248 272h2v2h-2zM248 271h2v2h-2zM249 269h2v2h-2zM249 272h2v2h-2zM250 271h2v2h-2zM250 275h2v2h-2zM251 272h2v2h-2zM252 272h2v2h-2zM252 270h2v2h-2zM253 270h2v2h-2zM254 270h2v2h-2zM254 267h2v2h-2zM255 268h2v2h-2zM255 271h2v2h-2zM256 270h2v2h-2zM256 267h2v2h-2zM257 270h2v2h-2zM257 268h2v2h-2zM258 267h2v2h-2zM259 268h2v2h-2zM259 264h2v2h-2zM260 269h2v2h-2zM260 264h2v2h-2zM261 267h2v2h-2zM261 266h2v2h-2zM262 267h2v2h-2zM262 266h2v2h-2zM263 265h2v2h-2zM263 263h2v2h-2zM264 264h2v2h-2zM264 263h2v2h-2zM265 265h2v2h-2zM266 264h2v2h-2zM266 263h2v2h-2zM267 262h2v2h-2zM267 263h2v2h-2zM268 262h2v2h-2zM268 263h2v2h-2zM269 263h2v2h-2zM269 264h2v2h-2zM270 266h2v2h-2zM271 268h2v2h-2zM272 265h2v2h-2zM273 268h2v2h-2zM273 266h2v2h-2zM274 271h2v2h-2zM274 266h2v2h-2zM275 271h2v2h-2zM275 266h2v2h-2zM276 267h2v2h-2zM277 269h2v2h-2zM277 270h2v2h-2zM278 273h2v2h-2zM279 268h2v2h-2zM279 273h2v2h-2zM280 268h2v2h-2zM280 272h2v2h-2zM281 272h2v2h-2zM281 270h2v2h-2zM282 272h2v2h-2zM282 269h2v2h-2zM283 269h2v2h-2zM283 271h2v2h-2zM284 271h2v2h-2zM284 276h2v2h-2zM285 271h2v2h-2zM286 273h2v2h-2zM286 270h2v2h-2zM287 274h2v2h-2zM287 273h2v2h-2zM288 272h2v2h-2zM288 270h2v2h-2zM289 271h2v2h-2zM290 274h2v2h-2zM290 282h2v2h-2zM291 277h2v2h-2zM291 273h2v2h-2zM292 272h2v2h-2zM293 276h2v2h-2zM294 279h2v2h-2zM294 276h2v2h-2zM295 273h2v2h-2zM295 279h2v2h-2zM296 282h2v2h-2zM296 276h2v2h-2zM297 272h2v2h-2zM297 279h2v2h-2zM298 271h2v2h-2zM298 272h2v2h-2zM299 273h2v2h-2zM300 273h2v2h-2zM300 276h2v2h-2zM301 273h2v2h-2zM301 275h2v2h-2zM302 276h2v2h-2zM302 273h2v2h-2zM303 275h2v2h-2zM303 280h2v2h-2zM304 276h2v2h-2zM304 270h2v2h-2zM305 277h2v2h-2zM306 273h2v2h-2zM306 272h2v2h-2zM307 276h2v2h-2zM307 270h2v2h-2zM308 273h2v2h-2zM308 272h2v2h-2zM309 273h2v2h-2zM309 276h2v2h-2zM310 277h2v2h-2zM310 272h2v2h-2zM311 273h2v2h-2zM311 280h2v2h-2zM312 272h2v2h-2zM313 276h2v2h-2zM314 272h2v2h-2zM315 272h2v2h-2zM315 273h2v2h-2zM316 274h2v2h-2zM316 275h2v2h-2zM317 275h2v2h-2zM317 274h2v2h-2zM318 279h2v2h-2zM318 273h2v2h-2zM319 285h2v2h-2zM320 279h2v2h-2zM320 280h2v2h-2zM321 277h2v2h-2zM321 276h2v2h-2zM322 277h2v2h-2zM322 272h2v2h-2zM323 273h2v2h-2zM324 276h2v2h-2zM324 272h2v2h-2zM325 277h2v2h-2zM325 270h2v2h-2zM326 270h2v2h-2zM327 273h2v2h-2zM327 274h2v2h-2zM328 273h2v2h-2zM328 270h2v2h-2zM329 272h2v2h-2zM329 268h2v2h-2zM330 267h2v2h-2zM331 268h2v2h-2zM331 265h2v2h-2zM332 265h2v2h-2zM333 263h2v2h-2zM333 262h2v2h-2zM334 262h2v2h-2zM335 262h2v2h-2zM335 264h2v2h-2zM336 261h2v2h-2zM336 263h2v2h-2zM337 265h2v2h-2zM337 264h2v2h-2zM338 266h2v2h-2zM338 265h2v2h-2zM339 263h2v2h-2zM340 265h2v2h-2zM340 262h2v2h-2zM341 262h2v2h-2zM341 261h2v2h-2zM342 262h2v2h-2zM342 261h2v2h-2zM343 261h2v2h-2zM343 260h2v2h-2zM344 262h2v2h-2zM344 259h2v2h-2zM345 260h2v2h-2zM345 261h2v2h-2zM346 259h2v2h-2zM347 258h2v2h-2zM348 259h2v2h-2zM348 258h2v2h-2zM349 259h2v2h-2zM350 259h2v2h-2zM350 260h2v2h-2zM351 260h2v2h-2zM351 261h2v2h-2zM352 259h2v2h-2zM352 260h2v2h-2zM353 261h2v2h-2zM354 260h2v2h-2zM354 258h2v2h-2zM355 259h2v2h-2zM355 260h2v2h-2zM356 260h2v2h-2zM356 259h2v2h-2zM357 259h2v2h-2zM358 260h2v2h-2zM358 258h2v2h-2zM359 259h2v2h-2zM360 260h2v2h-2zM360 262h2v2h-2zM361 261h2v2h-2zM362 260h2v2h-2zM362 261h2v2h-2zM363 261h2v2h-2zM363 262h2v2h-2zM364 260h2v2h-2zM364 259h2v2h-2zM365 259h2v2h-2zM365 258h2v2h-2zM366 257h2v2h-2zM367 256h2v2h-2zM367 257h2v2h-2zM368 256h2v2h-2zM368 255h2v2h-2zM369 254h2v2h-2zM369 253h2v2h-2zM370 254h2v2h-2zM370 253h2v2h-2zM371 253h2v2h-2zM372 252h2v2h-2zM373 251h2v2h-2zM374 251h2v2h-2zM375 251h2v2h-2zM375 252h2v2h-2zM376 251h2v2h-2zM377 251h2v2h-2zM377 252h2v2h-2zM378 251h2v2h-2zM379 252h2v2h-2zM379 251h2v2h-2zM380 251h2v2h-2zM381 251h2v2h-2zM381 250h2v2h-2zM382 251h2v2h-2zM382 249h2v2h-2zM383 250h2v2h-2zM384 251h2v2h-2zM384 250h2v2h-2zM385 251h2v2h-2zM385 250h2v2h-2zM386 250h2v2h-2zM387 250h2v2h-2zM387 251h2v2h-2zM388 249h2v2h-2zM388 250h2v2h-2zM389 249h2v2h-2zM390 249h2v2h-2zM390 250h2v2h-2zM391 249h2v2h-2zM391 250h2v2h-2zM392 249h2v2h-2zM393 249h2v2h-2zM394 249h2v2h-2zM394 248h2v2h-2zM395 247h2v2h-2zM396 246h2v2h-2zM397 246h2v2h-2zM397 245h2v2h-2zM398 245h2v2h-2zM398 244h2v2h-2zM399 244h2v2h-2zM400 245h2v2h-2zM401 245h2v2h-2zM402 245h2v2h-2zM402 246h2v2h-2zM403 246h2v2h-2zM404 247h2v2h-2zM405 246h2v2h-2zM405 247h2v2h-2zM406 248h2v2h-2zM407 249h2v2h-2zM408 250h2v2h-2zM409 250h2v2h-2zM410 251h2v2h-2zM411 251h2v2h-2zM411 252h2v2h-2zM412 251h2v2h-2zM412 252h2v2h-2zM413 251h2v2h-2zM414 250h2v2h-2zM414 252h2v2h-2zM415 250h2v2h-2zM416 249h2v2h-2zM416 248h2v2h-2zM417 248h2v2h-2zM417 247h2v2h-2zM418 246h2v2h-2zM418 244h2v2h-2zM419 244h2v2h-2zM420 244h2v2h-2zM421 245h2v2h-2zM422 245h2v2h-2zM423 245h2v2h-2zM423 244h2v2h-2zM424 244h2v2h-2zM424 243h2v2h-2zM425 243h2v2h-2zM426 242h2v2h-2zM426 241h2v2h-2zM427 241h2v2h-2zM428 240h2v2h-2zM429 239h2v2h-2zM429 240h2v2h-2zM430 240h2v2h-2zM431 241h2v2h-2zM431 240h2v2h-2zM432 239h2v2h-2zM432 237h2v2h-2zM433 235h2v2h-2zM434 235h2v2h-2zM435 234h2v2h-2zM436 234h2v2h-2zM437 234h2v2h-2zM437 235h2v2h-2zM438 235h2v2h-2zM439 236h2v2h-2zM440 236h2v2h-2zM441 236h2v2h-2zM442 237h2v2h-2zM443 238h2v2h-2zM444 236h2v2h-2zM444 234h2v2h-2zM445 233h2v2h-2zM446 234h2v2h-2zM447 234h2v2h-2zM448 235h2v2h-2zM449 236h2v2h-2zM449 237h2v2h-2zM450 237h2v2h-2zM451 238h2v2h-2zM452 239h2v2h-2zM453 240h2v2h-2zM454 240h2v2h-2zM455 240h2v2h-2zM456 239h2v2h-2zM457 239h2v2h-2zM458 239h2v2h-2zM459 239h2v2h-2zM460 239h2v2h-2zM461 239h2v2h-2zM462 240h2v2h-2zM462 239h2v2h-2zM463 239h2v2h-2zM463 240h2v2h-2zM464 240h2v2h-2zM464 242h2v2h-2zM465 243h2v2h-2zM465 244h2v2h-2zM466 245h2v2h-2zM466 246h2v2h-2zM467 247h2v2h-2zM468 247h2v2h-2zM469 247h2v2h-2zM469 246h2v2h-2zM470 246h2v2h-2zM470 247h2v2h-2zM471 246h2v2h-2zM472 246h2v2h-2zM473 246h2v2h-2zM474 247h2v2h-2zM475 247h2v2h-2zM475 246h2v2h-2zM476 246h2v2h-2zM477 246h2v2h-2zM478 246h2v2h-2zM479 246h2v2h-2zM480 245h2v2h-2zM480 246h2v2h-2zM481 245h2v2h-2zM482 245h2v2h-2zM483 245h2v2h-2zM484 245h2v2h-2zM485 245h2v2h-2zM486 246h2v2h-2zM486 245h2v2h-2zM487 245h2v2h-2zM488 246h2v2h-2zM489 245h2v2h-2zM490 245h2v2h-2zM491 246h2v2h-2zM492 247h2v2h-2zM492 248h2v2h-2zM493 249h2v2h-2zM494 250h2v2h-2zM495 251h2v2h-2zM495 250h2v2h-2zM496 251h2v2h-2zM496 250h2v2h-2zM497 250h2v2h-2zM497 251h2v2h-2zM498 251h2v2h-2zM499 251h2v2h-2zM500 251h2v2h-2zM501 250h2v2h-2zM502 250h2v2h-2zM502 251h2v2h-2zM503 251h2v2h-2zM504 251h2v2h-2zM505 250h2v2h-2zM505 251h2v2h-2zM506 251h2v2h-2zM507 250h2v2h-2zM508 251h2v2h-2zM509 251h2v2h-2zM510 251h2v2h-2zM510 252h2v2h-2zM511 251h2v2h-2zM512 252h2v2h-2zM513 252h2v2h-2zM514 254h2v2h-2zM514 253h2v2h-2zM515 254h2v2h-2zM516 254h2v2h-2zM517 255h2v2h-2zM518 256h2v2h-2zM519 256h2v2h-2zM520 257h2v2h-2zM521 255h2v2h-2zM522 256h2v2h-2zM522 257h2v2h-2zM523 257h2v2h-2zM524 256h2v2h-2zM524 257h2v2h-2zM525 258h2v2h-2zM526 259h2v2h-2zM527 259h2v2h-2zM527 262h2v2h-2zM528 262h2v2h-2zM529 260h2v2h-2zM529 262h2v2h-2zM530 263h2v2h-2zM531 264h2v2h-2zM532 263h2v2h-2zM533 262h2v2h-2zM533 263h2v2h-2zM534 264h2v2h-2zM535 266h2v2h-2zM536 263h2v2h-2zM536 266h2v2h-2zM537 265h2v2h-2zM538 265h2v2h-2zM539 265h2v2h-2zM539 266h2v2h-2zM540 267h2v2h-2zM540 265h2v2h-2zM541 265h2v2h-2zM541 266h2v2h-2zM542 266h2v2h-2zM543 264h2v2h-2zM543 265h2v2h-2zM544 264h2v2h-2zM545 264h2v2h-2zM545 263h2v2h-2zM546 263h2v2h-2zM546 262h2v2h-2zM547 264h2v2h-2zM547 261h2v2h-2zM548 264h2v2h-2zM549 265h2v2h-2zM550 264h2v2h-2zM550 263h2v2h-2zM551 264h2v2h-2zM552 263h2v2h-2zM553 264h2v2h-2zM553 265h2v2h-2zM554 264h2v2h-2zM554 263h2v2h-2zM555 263h2v2h-2zM556 264h2v2h-2zM556 263h2v2h-2zM557 264h2v2h-2zM558 265h2v2h-2zM558 266h2v2h-2zM559 265h2v2h-2zM559 264h2v2h-2zM560 266h2v2h-2zM561 267h2v2h-2zM561 265h2v2h-2zM562 264h2v2h-2zM563 268h2v2h-2zM563 266h2v2h-2zM564 267h2v2h-2zM564 269h2v2h-2zM565 267h2v2h-2zM565 268h2v2h-2zM566 269h2v2h-2zM566 268h2v2h-2zM567 267h2v2h-2zM567 269h2v2h-2zM568 274h2v2h-2zM568 267h2v2h-2zM569 269h2v2h-2zM570 270h2v2h-2zM570 273h2v2h-2zM571 271h2v2h-2zM571 272h2v2h-2zM572 272h2v2h-2zM572 279h2v2h-2zM573 275h2v2h-2zM573 274h2v2h-2zM574 277h2v2h-2zM574 280h2v2h-2zM575 276h2v2h-2zM576 276h2v2h-2zM577 280h2v2h-2zM578 276h2v2h-2zM578 274h2v2h-2zM579 276h2v2h-2zM579 290h2v2h-2zM580 279h2v2h-2zM580 280h2v2h-2zM581 280h2v2h-2zM581 282h2v2h-2zM582 290h2v2h-2zM583 282h2v2h-2zM584 282h2v2h-2zM584 276h2v2h-2zM585 277h2v2h-2zM585 274h2v2h-2zM586 275h2v2h-2zM586 279h2v2h-2zM587 290h2v2h-2zM587 285h2v2h-2zM588 290h2v2h-2zM588 276h2v2h-2zM589 276h2v2h-2zM590 285h2v2h-2zM590 280h2v2h-2zM591 279h2v2h-2zM591 277h2v2h-2zM592 280h2v2h-2zM592 274h2v2h-2zM593 277h2v2h-2zM593 282h2v2h-2zM594 282h2v2h-2zM594 279h2v2h-2zM595 277h2v2h-2zM595 275h2v2h-2zM596 279h2v2h-2zM597 282h2v2h-2zM598 285h2v2h-2zM599 279h2v2h-2zM600 277h2v2h-2zM600 279h2v2h-2zM601 280h2v2h-2zM601 282h2v2h-2zM602 277h2v2h-2zM603 285h2v2h-2zM603 277h2v2h-2zM604 276h2v2h-2zM605 280h2v2h-2zM605 277h2v2h-2zM606 277h2v2h-2zM607 279h2v2h-2zM607 285h2v2h-2zM608 279h2v2h-2zM609 276h2v2h-2zM610 279h2v2h-2zM611 280h2v2h-2zM611 279h2v2h-2zM612 276h2v2h-2zM612 285h2v2h-2zM613 277h2v2h-2zM613 279h2v2h-2zM614 277h2v2h-2zM614 279h2v2h-2zM615 274h2v2h-2zM615 270h2v2h-2zM616 272h2v2h-2zM617 270h2v2h-2zM617 266h2v2h-2zM618 265h2v2h-2zM618 264h2v2h-2zM619 263h2v2h-2zM620 261h2v2h-2zM621 262h2v2h-2zM621 261h2v2h-2zM622 263h2v2h-2zM623 263h2v2h-2zM624 264h2v2h-2zM624 265h2v2h-2zM625 267h2v2h-2zM626 265h2v2h-2zM626 268h2v2h-2zM627 269h2v2h-2zM627 266h2v2h-2zM628 268h2v2h-2zM628 269h2v2h-2zM629 267h2v2h-2zM630 268h2v2h-2zM630 269h2v2h-2zM631 268h2v2h-2zM631 269h2v2h-2zM632 270h2v2h-2zM632 267h2v2h-2zM633 269h2v2h-2zM633 272h2v2h-2zM634 269h2v2h-2zM634 271h2v2h-2zM635 270h2v2h-2zM635 268h2v2h-2zM636 274h2v2h-2zM637 271h2v2h-2zM637 270h2v2h-2zM638 274h2v2h-2zM638 272h2v2h-2zM639 274h2v2h-2zM639 270h2v2h-2zM640 270h2v2h-2zM640 273h2v2h-2zM641 270h2v2h-2zM641 271h2v2h-2zM642 274h2v2h-2zM642 273h2v2h-2zM643 273h2v2h-2zM644 275h2v2h-2zM644 271h2v2h-2zM645 274h2v2h-2zM645 275h2v2h-2zM646 271h2v2h-2zM646 275h2v2h-2zM647 273h2v2h-2zM647 272h2v2h-2zM648 277h2v2h-2zM648 275h2v2h-2zM649 274h2v2h-2zM649 277h2v2h-2zM650 279h2v2h-2zM651 273h2v2h-2zM651 272h2v2h-2zM652 275h2v2h-2zM652 274h2v2h-2zM653 275h2v2h-2zM653 282h2v2h-2zM654 276h2v2h-2zM654 277h2v2h-2zM655 275h2v2h-2zM655 274h2v2h-2zM656 280h2v2h-2zM657 279h2v2h-2zM657 276h2v2h-2zM658 276h2v2h-2zM659 277h2v2h-2zM659 276h2v2h-2zM660 280h2v2h-2zM660 285h2v2h-2zM661 282h2v2h-2zM661 276h2v2h-2zM662 279h2v2h-2zM662 276h2v2h-2zM663 280h2v2h-2zM664 280h2v2h-2zM664 290h2v2h-2zM665 276h2v2h-2zM665 285h2v2h-2zM666 279h2v2h-2zM666 280h2v2h-2zM667 279h2v2h-2zM667 282h2v2h-2zM668 285h2v2h-2zM668 279h2v2h-2zM669 280h2v2h-2zM669 277h2v2h-2zM670 282h2v2h-2zM671 279h2v2h-2zM671 280h2v2h-2zM672 279h2v2h-2zM672 282h2v2h-2zM673 276h2v2h-2zM673 285h2v2h-2zM674 276h2v2h-2zM674 285h2v2h-2zM675 279h2v2h-2zM676 280h2v2h-2zM677 276h2v2h-2zM678 285h2v2h-2zM678 282h2v2h-2zM679 275h2v2h-2zM679 282h2v2h-2zM680 277h2v2h-2zM680 285h2v2h-2zM681 277h2v2h-2zM681 280h2v2h-2zM682 275h2v2h-2zM682 279h2v2h-2zM683 280h2v2h-2zM684 285h2v2h-2zM684 280h2v2h-2zM685 277h2v2h-2zM685 276h2v2h-2zM686 277h2v2h-2zM686 276h2v2h-2zM687 279h2v2h-2zM687 277h2v2h-2zM688 273h2v2h-2zM688 276h2v2h-2zM689 282h2v2h-2zM689 279h2v2h-2zM690 276h2v2h-2zM691 276h2v2h-2zM692 279h2v2h-2zM693 275h2v2h-2zM693 276h2v2h-2zM694 274h2v2h-2zM694 276h2v2h-2zM695 274h2v2h-2zM695 276h2v2h-2zM696 272h2v2h-2zM696 275h2v2h-2zM697 273h2v2h-2zM698 276h2v2h-2zM698 277h2v2h-2zM699 274h2v2h-2zM699 273h2v2h-2zM700 276h2v2h-2zM700 277h2v2h-2zM701 279h2v2h-2zM701 280h2v2h-2zM702 275h2v2h-2zM702 276h2v2h-2zM703 282h2v2h-2zM704 277h2v2h-2zM705 276h2v2h-2zM705 282h2v2h-2zM706 274h2v2h-2zM706 280h2v2h-2zM707 290h2v2h-2zM707 276h2v2h-2zM708 275h2v2h-2zM708 280h2v2h-2zM709 273h2v2h-2zM709 290h2v2h-2zM710 276h2v2h-2zM711 279h2v2h-2zM711 282h2v2h-2zM712 282h2v2h-2zM712 280h2v2h-2zM713 282h2v2h-2zM713 276h2v2h-2zM714 280h2v2h-2zM715 276h2v2h-2zM716 277h2v2h-2zM716 280h2v2h-2zM717 285h2v2h-2zM718 290h2v2h-2zM718 277h2v2h-2zM719 277h2v2h-2zM720 282h2v2h-2zM721 290h2v2h-2zM721 276h2v2h-2zM722 282h2v2h-2zM722 285h2v2h-2zM723 277h2v2h-2zM724 279h2v2h-2zM725 280h2v2h-2zM725 276h2v2h-2zM726 276h2v2h-2zM726 279h2v2h-2zM727 276h2v2h-2zM728 276h2v2h-2zM728 280h2v2h-2zM729 280h2v2h-2zM730 276h2v2h-2zM730 279h2v2h-2zM731 290h2v2h-2zM732 285h2v2h-2zM732 276h2v2h-2zM733 276h2v2h-2zM733 280h2v2h-2zM734 280h2v2h-2zM734 276h2v2h-2zM735 280h2v2h-2zM735 279h2v2h-2zM736 282h2v2h-2zM736 280h2v2h-2zM737 285h2v2h-2zM738 282h2v2h-2zM738 277h2v2h-2zM739 280h2v2h-2zM740 280h2v2h-2zM740 275h2v2h-2zM741 290h2v2h-2zM741 282h2v2h-2zM742 285h2v2h-2zM743 285h2v2h-2zM743 279h2v2h-2zM744 276h2v2h-2zM745 280h2v2h-2zM745 272h2v2h-2zM746 282h2v2h-2zM746 277h2v2h-2zM747 279h2v2h-2zM747 285h2v2h-2zM748 279h2v2h-2zM748 290h2v2h-2zM749 285h2v2h-2zM749 276h2v2h-2zM750 277h2v2h-2zM750 279h2v2h-2zM751 282h2v2h-2zM752 282h2v2h-2zM753 277h2v2h-2zM754 282h2v2h-2zM754 280h2v2h-2zM755 285h2v2h-2zM755 282h2v2h-2zM756 280h2v2h-2zM756 277h2v2h-2zM757 285h2v2h-2zM757 282h2v2h-2zM758 280h2v2h-2zM759 276h2v2h-2zM760 279h2v2h-2zM760 280h2v2h-2zM761 279h2v2h-2zM761 276h2v2h-2zM762 282h2v2h-2zM762 277h2v2h-2zM763 279h2v2h-2zM763 280h2v2h-2zM764 275h2v2h-2zM765 275h2v2h-2zM765 274h2v2h-2zM766 276h2v2h-2zM766 274h2v2h-2zM767 275h2v2h-2zM767 276h2v2h-2zM768 285h2v2h-2zM768 275h2v2h-2zM769 282h2v2h-2zM769 280h2v2h-2zM770 276h2v2h-2zM770 272h2v2h-2zM771 280h2v2h-2zM772 273h2v2h-2zM772 279h2v2h-2zM773 276h2v2h-2zM773 273h2v2h-2zM774 273h2v2h-2zM774 276h2v2h-2zM775 273h2v2h-2zM775 269h2v2h-2zM776 270h2v2h-2zM776 277h2v2h-2zM777 270h2v2h-2zM777 272h2v2h-2zM778 271h2v2h-2zM779 273h2v2h-2zM779 271h2v2h-2zM780 270h2v2h-2zM780 272h2v2h-2zM781 272h2v2h-2zM782 270h2v2h-2zM783 270h2v2h-2zM783 272h2v2h-2zM784 270h2v2h-2zM785 270h2v2h-2zM786 275h2v2h-2zM786 272h2v2h-2zM787 273h2v2h-2zM787 271h2v2h-2zM788 275h2v2h-2zM788 276h2v2h-2zM789 275h2v2h-2zM789 271h2v2h-2zM790 276h2v2h-2zM791 276h2v2h-2zM792 273h2v2h-2zM792 279h2v2h-2zM793 272h2v2h-2zM793 279h2v2h-2zM794 276h2v2h-2zM795 277h2v2h-2zM795 276h2v2h-2zM796 277h2v2h-2zM796 276h2v2h-2zM797 277h2v2h-2zM797 275h2v2h-2zM798 279h2v2h-2zM799 275h2v2h-2zM800 273h2v2h-2zM800 272h2v2h-2zM801 276h2v2h-2zM801 273h2v2h-2zM802 275h2v2h-2zM802 279h2v2h-2zM803 271h2v2h-2zM803 277h2v2h-2zM804 272h2v2h-2zM804 277h2v2h-2zM805 279h2v2h-2zM806 280h2v2h-2zM806 282h2v2h-2zM807 290h2v2h-2zM807 276h2v2h-2zM808 280h2v2h-2zM808 277h2v2h-2zM809 280h2v2h-2zM810 276h2v2h-2zM810 277h2v2h-2zM811 282h2v2h-2zM812 285h2v2h-2zM813 282h2v2h-2zM814 277h2v2h-2zM814 282h2v2h-2zM815 285h2v2h-2zM815 277h2v2h-2zM816 277h2v2h-2zM816 280h2v2h-2zM817 285h2v2h-2zM817 277h2v2h-2zM818 276h2v2h-2zM819 279h2v2h-2zM819 280h2v2h-2zM820 276h2v2h-2zM820 280h2v2h-2zM821 280h2v2h-2zM821 279h2v2h-2zM822 276h2v2h-2zM822 277h2v2h-2zM823 272h2v2h-2zM823 280h2v2h-2zM824 277h2v2h-2zM825 277h2v2h-2zM826 282h2v2h-2zM826 276h2v2h-2zM827 282h2v2h-2zM827 276h2v2h-2zM828 280h2v2h-2zM828 279h2v2h-2zM829 273h2v2h-2zM829 282h2v2h-2zM830 279h2v2h-2zM830 282h2v2h-2zM831 276h2v2h-2zM831 280h2v2h-2zM832 279h2v2h-2zM833 276h2v2h-2zM834 276h2v2h-2zM835 276h2v2h-2zM835 279h2v2h-2zM836 282h2v2h-2zM836 279h2v2h-2zM837 274h2v2h-2zM837 276h2v2h-2zM838 277h2v2h-2zM838 276h2v2h-2zM839 277h2v2h-2zM840 276h2v2h-2zM841 285h2v2h-2zM841 282h2v2h-2zM842 274h2v2h-2zM842 276h2v2h-2zM843 276h2v2h-2zM843 280h2v2h-2zM844 277h2v2h-2zM844 276h2v2h-2zM845 276h2v2h-2zM846 275h2v2h-2zM846 274h2v2h-2zM847 274h2v2h-2zM848 275h2v2h-2zM848 276h2v2h-2zM849 276h2v2h-2zM849 274h2v2h-2zM850 271h2v2h-2zM850 274h2v2h-2zM851 272h2v2h-2zM852 273h2v2h-2zM853 273h2v2h-2zM853 279h2v2h-2zM854 272h2v2h-2zM854 280h2v2h-2zM855 274h2v2h-2zM855 272h2v2h-2zM856 272h2v2h-2zM856 274h2v2h-2zM857 274h2v2h-2zM857 279h2v2h-2zM858 276h2v2h-2zM858 277h2v2h-2zM859 280h2v2h-2zM860 280h2v2h-2zM860 279h2v2h-2zM861 272h2v2h-2zM861 279h2v2h-2zM862 275h2v2h-2zM862 276h2v2h-2zM863 273h2v2h-2zM863 274h2v2h-2zM864 276h2v2h-2zM865 270h2v2h-2zM865 273h2v2h-2zM866 272h2v2h-2zM867 271h2v2h-2zM868 271h2v2h-2zM868 273h2v2h-2zM869 276h2v2h-2zM869 270h2v2h-2zM870 270h2v2h-2zM870 273h2v2h-2zM871 271h2v2h-2zM871 273h2v2h-2zM872 271h2v2h-2zM873 277h2v2h-2zM873 274h2v2h-2zM874 272h2v2h-2zM874 274h2v2h-2zM875 273h2v2h-2zM875 276h2v2h-2zM876 276h2v2h-2zM876 280h2v2h-2zM877 274h2v2h-2zM878 275h2v2h-2zM878 276h2v2h-2zM879 277h2v2h-2zM880 279h2v2h-2zM881 282h2v2h-2zM881 285h2v2h-2zM882 279h2v2h-2zM882 274h2v2h-2zM883 280h2v2h-2zM883 282h2v2h-2zM884 277h2v2h-2zM885 276h2v2h-2zM885 279h2v2h-2zM886 277h2v2h-2zM887 277h2v2h-2zM887 276h2v2h-2zM888 271h2v2h-2zM888 280h2v2h-2zM889 276h2v2h-2zM889 273h2v2h-2zM890 275h2v2h-2zM890 274h2v2h-2zM891 271h2v2h-2zM891 273h2v2h-2zM892 276h2v2h-2zM892 274h2v2h-2zM893 277h2v2h-2zM894 277h2v2h-2zM894 276h2v2h-2zM895 273h2v2h-2zM895 285h2v2h-2zM896 273h2v2h-2zM896 277h2v2h-2zM897 280h2v2h-2zM897 276h2v2h-2zM898 276h2v2h-2zM898 275h2v2h-2zM159 193h2v2h-2zM437 228h2v2h-2z" fill="#000" shape-rendering="crispEdges"/><path d="M126 434h2v2h-2zM127 433h2v2h-2zM127 437h2v2h-2zM128 436h2v2h-2zM129 436h2v2h-2zM129 434h2v2h-2zM130 435h2v2h-2zM131 434h2v2h-2zM131 436h2v2h-2zM132 436h2v2h-2zM132 434h2v2h-2zM133 435h2v2h-2zM133 436h2v2h-2zM134 435h2v2h-2zM135 434h2v2h-2zM136 435h2v2h-2zM136 434h2v2h-2zM137 433h2v2h-2zM138 436h2v2h-2zM138 441h2v2h-2zM139 435h2v2h-2zM139 436h2v2h-2zM140 434h2v2h-2zM140 436h2v2h-2zM141 433h2v2h-2zM141 434h2v2h-2zM142 435h2v2h-2zM143 433h2v2h-2zM144 437h2v2h-2zM144 434h2v2h-2zM145 437h2v2h-2zM145 433h2v2h-2zM146 436h2v2h-2zM146 437h2v2h-2zM147 435h2v2h-2zM147 434h2v2h-2zM148 437h2v2h-2zM148 435h2v2h-2zM149 436h2v2h-2zM150 433h2v2h-2zM151 433h2v2h-2zM152 434h2v2h-2zM152 435h2v2h-2zM153 435h2v2h-2zM153 436h2v2h-2zM154 435h2v2h-2zM154 433h2v2h-2zM155 435h2v2h-2zM155 434h2v2h-2zM156 435h2v2h-2zM156 433h2v2h-2zM157 434h2v2h-2zM158 436h2v2h-2zM159 434h2v2h-2zM159 437h2v2h-2zM160 434h2v2h-2zM161 434h2v2h-2zM161 436h2v2h-2zM162 432h2v2h-2zM162 433h2v2h-2zM163 436h2v2h-2zM163 434h2v2h-2zM164 436h2v2h-2zM165 438h2v2h-2zM165 435h2v2h-2zM166 435h2v2h-2zM166 433h2v2h-2zM167 435h2v2h-2zM167 433h2v2h-2zM168 435h2v2h-2zM168 433h2v2h-2zM169 434h2v2h-2zM169 435h2v2h-2zM170 433h2v2h-2zM171 435h2v2h-2zM172 432h2v2h-2zM172 436h2v2h-2zM173 434h2v2h-2zM173 435h2v2h-2zM174 435h2v2h-2zM174 432h2v2h-2zM175 433h2v2h-2zM175 434h2v2h-2zM176 433h2v2h-2zM177 434h2v2h-2zM178 437h2v2h-2zM178 435h2v2h-2zM179 435h2v2h-2zM179 434h2v2h-2zM180 437h2v2h-2zM180 434h2v2h-2zM181 435h2v2h-2zM181 434h2v2h-2zM182 434h2v2h-2zM182 435h2v2h-2zM183 434h2v2h-2zM183 436h2v2h-2zM184 436h2v2h-2zM185 434h2v2h-2zM186 436h2v2h-2zM186 435h2v2h-2zM187 435h2v2h-2zM187 436h2v2h-2zM188 432h2v2h-2zM188 434h2v2h-2zM189 435h2v2h-2zM190 436h2v2h-2zM190 434h2v2h-2zM191 438h2v2h-2zM192 435h2v2h-2zM192 433h2v2h-2zM193 435h2v2h-2zM193 434h2v2h-2zM194 436h2v2h-2zM194 432h2v2h-2zM195 435h2v2h-2zM195 436h2v2h-2zM196 433h2v2h-2zM196 432h2v2h-2zM197 434h2v2h-2zM198 435h2v2h-2zM198 434h2v2h-2zM199 436h2v2h-2zM199 434h2v2h-2zM200 433h2v2h-2zM201 436h2v2h-2zM201 434h2v2h-2zM202 436h2v2h-2zM202 433h2v2h-2zM203 433h2v2h-2zM203 434h2v2h-2zM204 437h2v2h-2zM205 433h2v2h-2zM205 434h2v2h-2zM206 433h2v2h-2zM206 434h2v2h-2zM207 434h2v2h-2zM208 434h2v2h-2zM208 433h2v2h-2zM209 433h2v2h-2zM209 432h2v2h-2zM210 431h2v2h-2zM210 434h2v2h-2zM211 439h2v2h-2zM212 433h2v2h-2zM212 436h2v2h-2zM213 433h2v2h-2zM214 434h2v2h-2zM215 433h2v2h-2zM216 435h2v2h-2zM216 433h2v2h-2zM217 434h2v2h-2zM217 436h2v2h-2zM218 434h2v2h-2zM219 435h2v2h-2zM219 434h2v2h-2zM220 433h2v2h-2zM220 434h2v2h-2zM221 435h2v2h-2zM221 434h2v2h-2zM222 435h2v2h-2zM222 433h2v2h-2zM223 433h2v2h-2zM224 434h2v2h-2zM225 437h2v2h-2zM225 432h2v2h-2zM226 433h2v2h-2zM227 434h2v2h-2zM227 433h2v2h-2zM228 434h2v2h-2zM229 433h2v2h-2zM230 434h2v2h-2zM230 435h2v2h-2zM231 436h2v2h-2zM232 436h2v2h-2zM232 433h2v2h-2zM233 434h2v2h-2zM233 435h2v2h-2zM234 439h2v2h-2zM234 435h2v2h-2zM235 434h2v2h-2zM235 436h2v2h-2zM236 434h2v2h-2zM236 433h2v2h-2zM237 434h2v2h-2zM237 435h2v2h-2zM238 433h2v2h-2zM239 434h2v2h-2zM239 433h2v2h-2zM240 436h2v2h-2zM240 438h2v2h-2zM241 434h2v2h-2zM242 433h2v2h-2zM242 434h2v2h-2zM243 435h2v2h-2zM243 433h2v2h-2zM244 437h2v2h-2zM244 435h2v2h-2zM245 434h2v2h-2zM246 435h2v2h-2zM247 435h2v2h-2zM248 435h2v2h-2zM248 433h2v2h-2zM249 434h2v2h-2zM249 433h2v2h-2zM250 433h2v2h-2zM250 434h2v2h-2zM251 431h2v2h-2zM252 433h2v2h-2zM252 434h2v2h-2zM253 433h2v2h-2zM254 433h2v2h-2zM254 436h2v2h-2zM255 433h2v2h-2zM255 432h2v2h-2zM256 433h2v2h-2zM256 432h2v2h-2zM257 433h2v2h-2zM257 434h2v2h-2zM258 433h2v2h-2zM259 434h2v2h-2zM259 432h2v2h-2zM260 434h2v2h-2zM261 433h2v2h-2zM261 435h2v2h-2zM262 432h2v2h-2zM262 435h2v2h-2zM263 432h2v2h-2zM263 433h2v2h-2zM264 433h2v2h-2zM264 434h2v2h-2zM265 431h2v2h-2zM266 432h2v2h-2zM267 434h2v2h-2zM268 434h2v2h-2zM268 431h2v2h-2zM269 433h2v2h-2zM269 431h2v2h-2zM270 432h2v2h-2zM271 432h2v2h-2zM272 434h2v2h-2zM273 436h2v2h-2zM273 433h2v2h-2zM274 432h2v2h-2zM275 432h2v2h-2zM275 434h2v2h-2zM276 434h2v2h-2zM276 433h2v2h-2zM277 431h2v2h-2zM277 432h2v2h-2zM278 431h2v2h-2zM279 433h2v2h-2zM279 431h2v2h-2zM280 431h2v2h-2zM280 430h2v2h-2zM281 432h2v2h-2zM282 431h2v2h-2zM283 432h2v2h-2zM284 432h2v2h-2zM284 431h2v2h-2zM285 435h2v2h-2zM286 435h2v2h-2zM286 431h2v2h-2zM287 433h2v2h-2zM287 431h2v2h-2zM288 433h2v2h-2zM288 432h2v2h-2zM289 431h2v2h-2zM289 432h2v2h-2zM290 434h2v2h-2zM290 432h2v2h-2zM291 430h2v2h-2zM291 432h2v2h-2zM292 432h2v2h-2zM293 433h2v2h-2zM293 430h2v2h-2zM294 433h2v2h-2zM294 430h2v2h-2zM295 432h2v2h-2zM295 431h2v2h-2zM296 431h2v2h-2zM296 434h2v2h-2zM297 432h2v2h-2zM297 431h2v2h-2zM298 431h2v2h-2zM298 432h2v2h-2zM299 432h2v2h-2zM300 431h2v2h-2zM300 433h2v2h-2zM301 432h2v2h-2zM301 436h2v2h-2zM302 432h2v2h-2zM303 434h2v2h-2zM303 432h2v2h-2zM304 430h2v2h-2zM304 432h2v2h-2zM305 432h2v2h-2zM306 433h2v2h-2zM307 434h2v2h-2zM307 431h2v2h-2zM308 431h2v2h-2zM308 432h2v2h-2zM309 433h2v2h-2zM309 431h2v2h-2zM310 433h2v2h-2zM310 432h2v2h-2zM311 433h2v2h-2zM311 435h2v2h-2zM312 436h2v2h-2zM313 433h2v2h-2zM314 433h2v2h-2zM315 432h2v2h-2zM316 431h2v2h-2zM316 432h2v2h-2zM317 434h2v2h-2zM317 433h2v2h-2zM318 432h2v2h-2zM318 435h2v2h-2zM319 432h2v2h-2zM320 432h2v2h-2zM320 433h2v2h-2zM321 432h2v2h-2zM322 434h2v2h-2zM322 430h2v2h-2zM323 432h2v2h-2zM323 433h2v2h-2zM324 434h2v2h-2zM325 432h2v2h-2zM326 431h2v2h-2zM327 431h2v2h-2zM328 430h2v2h-2zM328 428h2v2h-2zM329 429h2v2h-2zM329 431h2v2h-2zM330 431h2v2h-2zM330 432h2v2h-2zM331 432h2v2h-2zM332 432h2v2h-2zM333 431h2v2h-2zM333 432h2v2h-2zM334 429h2v2h-2zM334 431h2v2h-2zM335 431h2v2h-2zM335 432h2v2h-2zM336 432h2v2h-2zM336 431h2v2h-2zM337 432h2v2h-2zM337 431h2v2h-2zM338 432h2v2h-2zM338 434h2v2h-2zM339 430h2v2h-2zM340 431h2v2h-2zM340 430h2v2h-2zM341 431h2v2h-2zM341 430h2v2h-2zM342 435h2v2h-2zM342 430h2v2h-2zM343 431h2v2h-2zM343 430h2v2h-2zM344 432h2v2h-2zM344 433h2v2h-2zM345 432h2v2h-2zM345 431h2v2h-2zM346 430h2v2h-2zM347 432h2v2h-2zM347 430h2v2h-2zM348 431h2v2h-2zM348 432h2v2h-2zM349 434h2v2h-2zM349 433h2v2h-2zM350 431h2v2h-2zM351 432h2v2h-2zM351 433h2v2h-2zM352 432h2v2h-2zM352 431h2v2h-2zM353 432h2v2h-2zM354 432h2v2h-2zM354 433h2v2h-2zM355 429h2v2h-2zM355 432h2v2h-2zM356 433h2v2h-2zM356 432h2v2h-2zM357 432h2v2h-2zM357 433h2v2h-2zM358 432h2v2h-2zM358 433h2v2h-2zM359 433h2v2h-2zM360 433h2v2h-2zM361 432h2v2h-2zM361 434h2v2h-2zM362 433h2v2h-2zM363 432h2v2h-2zM364 431h2v2h-2zM364 432h2v2h-2zM365 431h2v2h-2zM365 432h2v2h-2zM366 431h2v2h-2zM367 432h2v2h-2zM367 435h2v2h-2zM368 431h2v2h-2zM369 432h2v2h-2zM369 431h2v2h-2zM370 434h2v2h-2zM370 431h2v2h-2zM371 431h2v2h-2zM371 434h2v2h-2zM372 431h2v2h-2zM372 433h2v2h-2zM373 432h2v2h-2zM374 433h2v2h-2zM374 431h2v2h-2zM375 433h2v2h-2zM376 434h2v2h-2zM376 433h2v2h-2zM377 433h2v2h-2zM377 435h2v2h-2zM378 435h2v2h-2zM378 433h2v2h-2zM379 431h2v2h-2zM379 433h2v2h-2zM380 431h2v2h-2zM381 432h2v2h-2zM381 433h2v2h-2zM382 432h2v2h-2zM382 434h2v2h-2zM383 431h2v2h-2zM383 434h2v2h-2zM384 432h2v2h-2zM384 434h2v2h-2zM385 432h2v2h-2zM385 431h2v2h-2zM386 433h2v2h-2zM387 430h2v2h-2zM387 432h2v2h-2zM388 433h2v2h-2zM388 432h2v2h-2zM389 432h2v2h-2zM389 433h2v2h-2zM390 435h2v2h-2zM390 432h2v2h-2zM391 431h2v2h-2zM391 434h2v2h-2zM392 431h2v2h-2zM392 432h2v2h-2zM393 432h2v2h-2zM394 432h2v2h-2zM395 430h2v2h-2zM395 431h2v2h-2zM396 431h2v2h-2zM396 432h2v2h-2zM397 433h2v2h-2zM397 429h2v2h-2zM398 430h2v2h-2zM398 431h2v2h-2zM399 435h2v2h-2zM399 433h2v2h-2zM400 431h2v2h-2zM401 431h2v2h-2zM401 432h2v2h-2zM402 431h2v2h-2zM403 432h2v2h-2zM403 433h2v2h-2zM404 432h2v2h-2zM405 432h2v2h-2zM406 431h2v2h-2zM406 433h2v2h-2zM407 435h2v2h-2zM408 433h2v2h-2zM408 432h2v2h-2zM409 431h2v2h-2zM409 433h2v2h-2zM410 433h2v2h-2zM411 431h2v2h-2zM412 430h2v2h-2zM412 433h2v2h-2zM413 434h2v2h-2zM414 431h2v2h-2zM414 432h2v2h-2zM415 432h2v2h-2zM416 434h2v2h-2zM416 431h2v2h-2zM417 433h2v2h-2zM417 432h2v2h-2zM418 433h2v2h-2zM418 431h2v2h-2zM419 432h2v2h-2zM420 434h2v2h-2zM421 433h2v2h-2zM421 432h2v2h-2zM422 431h2v2h-2zM422 433h2v2h-2zM423 432h2v2h-2zM423 431h2v2h-2zM424 432h2v2h-2zM424 431h2v2h-2zM425 433h2v2h-2zM425 430h2v2h-2zM426 428h2v2h-2zM426 430h2v2h-2zM427 426h2v2h-2zM428 429h2v2h-2zM428 427h2v2h-2zM429 427h2v2h-2zM430 427h2v2h-2zM431 427h2v2h-2zM431 426h2v2h-2zM432 429h2v2h-2zM432 428h2v2h-2zM433 430h2v2h-2zM433 427h2v2h-2zM434 432h2v2h-2zM435 427h2v2h-2zM435 428h2v2h-2zM436 431h2v2h-2zM436 429h2v2h-2zM437 428h2v2h-2zM437 429h2v2h-2zM438 432h2v2h-2zM438 429h2v2h-2zM439 432h2v2h-2zM439 428h2v2h-2zM440 431h2v2h-2zM441 432h2v2h-2zM441 429h2v2h-2zM442 431h2v2h-2zM442 432h2v2h-2zM443 430h2v2h-2zM443 431h2v2h-2zM444 431h2v2h-2zM445 433h2v2h-2zM445 430h2v2h-2zM446 430h2v2h-2zM446 433h2v2h-2zM447 431h2v2h-2zM448 434h2v2h-2zM448 432h2v2h-2zM449 431h2v2h-2zM449 430h2v2h-2zM450 432h2v2h-2zM450 431h2v2h-2zM451 434h2v2h-2zM451 431h2v2h-2zM452 432h2v2h-2zM452 433h2v2h-2zM453 430h2v2h-2zM453 429h2v2h-2zM454 432h2v2h-2zM455 433h2v2h-2zM455 431h2v2h-2zM456 430h2v2h-2zM456 433h2v2h-2zM457 433h2v2h-2zM458 434h2v2h-2zM458 433h2v2h-2zM459 433h2v2h-2zM459 432h2v2h-2zM460 434h2v2h-2zM460 436h2v2h-2zM461 432h2v2h-2zM462 432h2v2h-2zM462 433h2v2h-2zM463 434h2v2h-2zM463 433h2v2h-2zM464 437h2v2h-2zM465 434h2v2h-2zM465 435h2v2h-2zM466 433h2v2h-2zM466 435h2v2h-2zM467 435h2v2h-2zM468 434h2v2h-2zM468 433h2v2h-2zM469 433h2v2h-2zM469 434h2v2h-2zM470 434h2v2h-2zM470 432h2v2h-2zM471 437h2v2h-2zM471 434h2v2h-2zM472 434h2v2h-2zM473 433h2v2h-2zM473 434h2v2h-2zM474 436h2v2h-2zM475 435h2v2h-2zM475 434h2v2h-2zM476 438h2v2h-2zM476 433h2v2h-2zM477 435h2v2h-2zM477 432h2v2h-2zM478 435h2v2h-2zM478 438h2v2h-2zM479 435h2v2h-2zM479 433h2v2h-2zM480 434h2v2h-2zM480 435h2v2h-2zM481 433h2v2h-2zM482 434h2v2h-2zM482 431h2v2h-2zM483 435h2v2h-2zM483 432h2v2h-2zM484 434h2v2h-2zM485 432h2v2h-2zM485 435h2v2h-2zM486 433h2v2h-2zM486 434h2v2h-2zM487 435h2v2h-2zM488 434h2v2h-2zM489 435h2v2h-2zM489 439h2v2h-2zM490 436h2v2h-2zM491 433h2v2h-2zM492 434h2v2h-2zM492 435h2v2h-2zM493 436h2v2h-2zM494 438h2v2h-2zM495 434h2v2h-2zM496 435h2v2h-2zM496 438h2v2h-2zM497 434h2v2h-2zM497 436h2v2h-2zM498 436h2v2h-2zM498 435h2v2h-2zM499 434h2v2h-2zM499 437h2v2h-2zM500 434h2v2h-2zM500 437h2v2h-2zM501 437h2v2h-2zM502 436h2v2h-2zM502 435h2v2h-2zM503 435h2v2h-2zM503 434h2v2h-2zM504 436h2v2h-2zM504 435h2v2h-2zM505 433h2v2h-2zM505 434h2v2h-2zM506 435h2v2h-2zM506 439h2v2h-2zM507 436h2v2h-2zM507 433h2v2h-2zM508 435h2v2h-2zM509 436h2v2h-2zM509 434h2v2h-2zM510 434h2v2h-2zM510 436h2v2h-2zM511 434h2v2h-2zM511 435h2v2h-2zM512 434h2v2h-2zM512 436h2v2h-2zM513 435h2v2h-2zM513 436h2v2h-2zM514 434h2v2h-2zM515 435h2v2h-2zM516 433h2v2h-2zM516 435h2v2h-2zM517 437h2v2h-2zM518 435h2v2h-2zM518 433h2v2h-2zM519 438h2v2h-2zM519 435h2v2h-2zM520 434h2v2h-2zM520 436h2v2h-2zM521 436h2v2h-2zM522 436h2v2h-2zM522 435h2v2h-2zM523 435h2v2h-2zM523 436h2v2h-2zM524 434h2v2h-2zM524 436h2v2h-2zM525 436h2v2h-2zM526 437h2v2h-2zM526 436h2v2h-2zM527 436h2v2h-2zM528 436h2v2h-2zM529 437h2v2h-2zM529 433h2v2h-2zM530 436h2v2h-2zM530 435h2v2h-2zM531 439h2v2h-2zM531 436h2v2h-2zM532 436h2v2h-2zM533 435h2v2h-2zM533 437h2v2h-2zM534 432h2v2h-2zM534 436h2v2h-2zM535 434h2v2h-2zM536 434h2v2h-2zM536 435h2v2h-2zM537 436h2v2h-2zM537 435h2v2h-2zM538 436h2v2h-2zM538 435h2v2h-2zM539 435h2v2h-2zM539 437h2v2h-2zM540 437h2v2h-2zM540 434h2v2h-2zM541 438h2v2h-2zM541 435h2v2h-2zM542 435h2v2h-2zM543 436h2v2h-2zM543 438h2v2h-2zM544 438h2v2h-2zM544 436h2v2h-2zM545 436h2v2h-2zM545 435h2v2h-2zM546 435h2v2h-2zM546 437h2v2h-2zM547 433h2v2h-2zM547 437h2v2h-2zM548 436h2v2h-2zM549 438h2v2h-2zM549 437h2v2h-2zM550 436h2v2h-2zM550 437h2v2h-2zM551 437h2v2h-2zM551 436h2v2h-2zM552 435h2v2h-2zM552 436h2v2h-2zM553 442h2v2h-2zM553 437h2v2h-2zM554 437h2v2h-2zM554 436h2v2h-2zM555 437h2v2h-2zM556 434h2v2h-2zM556 436h2v2h-2zM557 436h2v2h-2zM557 434h2v2h-2zM558 434h2v2h-2zM558 436h2v2h-2zM559 435h2v2h-2zM560 437h2v2h-2zM560 435h2v2h-2zM561 435h2v2h-2zM561 437h2v2h-2zM562 437h2v2h-2zM563 436h2v2h-2zM563 435h2v2h-2zM564 436h2v2h-2zM564 439h2v2h-2zM565 435h2v2h-2zM565 439h2v2h-2zM566 436h2v2h-2zM566 437h2v2h-2zM567 437h2v2h-2zM567 436h2v2h-2zM568 435h2v2h-2zM568 437h2v2h-2zM569 434h2v2h-2zM570 434h2v2h-2zM570 432h2v2h-2zM571 434h2v2h-2zM571 438h2v2h-2zM572 435h2v2h-2zM572 437h2v2h-2zM573 439h2v2h-2zM573 437h2v2h-2zM574 437h2v2h-2zM574 436h2v2h-2zM575 436h2v2h-2zM576 437h2v2h-2zM576 439h2v2h-2zM577 438h2v2h-2zM578 434h2v2h-2zM579 436h2v2h-2zM579 437h2v2h-2zM580 435h2v2h-2zM581 437h2v2h-2zM581 435h2v2h-2zM582 433h2v2h-2zM583 438h2v2h-2zM583 434h2v2h-2zM584 436h2v2h-2zM584 437h2v2h-2zM585 435h2v2h-2zM585 434h2v2h-2zM586 435h2v2h-2zM587 436h2v2h-2zM588 435h2v2h-2zM588 437h2v2h-2zM589 436h2v2h-2zM590 438h2v2h-2zM590 435h2v2h-2zM591 436h2v2h-2zM591 437h2v2h-2zM592 435h2v2h-2zM593 435h2v2h-2zM593 436h2v2h-2zM594 435h2v2h-2zM594 437h2v2h-2zM595 435h2v2h-2zM596 437h2v2h-2zM597 435h2v2h-2zM597 433h2v2h-2zM598 434h2v2h-2zM598 436h2v2h-2zM599 435h2v2h-2zM599 436h2v2h-2zM600 435h2v2h-2zM600 434h2v2h-2zM601 437h2v2h-2zM602 439h2v2h-2zM603 437h2v2h-2zM604 435h2v2h-2zM604 433h2v2h-2zM605 437h2v2h-2zM605 434h2v2h-2zM606 437h2v2h-2zM606 438h2v2h-2zM607 437h2v2h-2zM607 436h2v2h-2zM608 436h2v2h-2zM608 435h2v2h-2zM609 436h2v2h-2zM610 434h2v2h-2zM610 437h2v2h-2zM611 436h2v2h-2zM611 435h2v2h-2zM612 441h2v2h-2zM612 437h2v2h-2zM613 437h2v2h-2zM613 436h2v2h-2zM614 435h2v2h-2zM614 434h2v2h-2zM615 436h2v2h-2zM616 435h2v2h-2zM617 435h2v2h-2zM617 436h2v2h-2zM618 433h2v2h-2zM618 435h2v2h-2zM619 437h2v2h-2zM620 435h2v2h-2zM620 437h2v2h-2zM621 434h2v2h-2zM622 437h2v2h-2zM622 435h2v2h-2zM623 437h2v2h-2zM624 436h2v2h-2zM624 435h2v2h-2zM625 436h2v2h-2zM626 436h2v2h-2zM626 438h2v2h-2zM627 438h2v2h-2zM627 437h2v2h-2zM628 435h2v2h-2zM628 437h2v2h-2zM629 435h2v2h-2zM630 434h2v2h-2zM630 437h2v2h-2zM631 437h2v2h-2zM631 435h2v2h-2zM632 435h2v2h-2zM632 436h2v2h-2zM633 437h2v2h-2zM633 435h2v2h-2zM634 436h2v2h-2zM634 435h2v2h-2zM635 436h2v2h-2zM635 434h2v2h-2zM636 434h2v2h-2zM637 435h2v2h-2zM638 434h2v2h-2zM638 440h2v2h-2zM639 437h2v2h-2zM640 436h2v2h-2zM640 435h2v2h-2zM641 438h2v2h-2zM641 435h2v2h-2zM642 437h2v2h-2zM642 434h2v2h-2zM643 436h2v2h-2zM644 435h2v2h-2zM644 439h2v2h-2zM645 435h2v2h-2zM645 434h2v2h-2zM646 435h2v2h-2zM646 433h2v2h-2zM647 434h2v2h-2zM647 438h2v2h-2zM648 436h2v2h-2zM648 435h2v2h-2zM649 433h2v2h-2zM649 435h2v2h-2zM650 435h2v2h-2zM651 435h2v2h-2zM652 435h2v2h-2zM652 436h2v2h-2zM653 436h2v2h-2zM654 436h2v2h-2zM655 436h2v2h-2zM656 436h2v2h-2zM657 435h2v2h-2zM658 435h2v2h-2zM659 436h2v2h-2zM659 435h2v2h-2zM660 436h2v2h-2zM660 438h2v2h-2zM661 439h2v2h-2zM661 436h2v2h-2zM662 435h2v2h-2zM662 436h2v2h-2zM663 437h2v2h-2zM664 435h2v2h-2zM664 434h2v2h-2zM665 435h2v2h-2zM666 434h2v2h-2zM667 434h2v2h-2zM667 436h2v2h-2zM668 433h2v2h-2zM668 436h2v2h-2zM669 436h2v2h-2zM669 438h2v2h-2zM670 435h2v2h-2zM671 434h2v2h-2zM671 437h2v2h-2zM672 433h2v2h-2zM672 435h2v2h-2zM673 434h2v2h-2zM673 435h2v2h-2zM674 436h2v2h-2zM674 435h2v2h-2zM675 437h2v2h-2zM675 436h2v2h-2zM676 437h2v2h-2zM676 435h2v2h-2zM677 437h2v2h-2zM678 439h2v2h-2zM678 435h2v2h-2zM679 437h2v2h-2zM679 435h2v2h-2zM680 437h2v2h-2zM680 436h2v2h-2zM681 436h2v2h-2zM682 435h2v2h-2zM682 437h2v2h-2zM683 436h2v2h-2zM684 436h2v2h-2zM685 439h2v2h-2zM685 435h2v2h-2zM686 434h2v2h-2zM686 437h2v2h-2zM687 433h2v2h-2zM687 434h2v2h-2zM688 435h2v2h-2zM688 436h2v2h-2zM689 436h2v2h-2zM689 437h2v2h-2zM690 435h2v2h-2zM691 437h2v2h-2zM691 435h2v2h-2zM692 435h2v2h-2zM692 437h2v2h-2zM693 437h2v2h-2zM693 436h2v2h-2zM694 435h2v2h-2zM695 435h2v2h-2zM695 434h2v2h-2zM696 432h2v2h-2zM696 436h2v2h-2zM697 435h2v2h-2zM698 436h2v2h-2zM699 436h2v2h-2zM699 435h2v2h-2zM700 435h2v2h-2zM701 435h2v2h-2zM701 434h2v2h-2zM702 435h2v2h-2zM702 432h2v2h-2zM703 435h2v2h-2zM704 437h2v2h-2zM705 437h2v2h-2zM705 436h2v2h-2zM706 436h2v2h-2zM707 437h2v2h-2zM707 436h2v2h-2zM708 434h2v2h-2zM708 435h2v2h-2zM709 436h2v2h-2zM709 433h2v2h-2zM710 435h2v2h-2zM711 436h2v2h-2zM712 436h2v2h-2zM712 431h2v2h-2zM713 432h2v2h-2zM713 433h2v2h-2zM714 440h2v2h-2zM714 434h2v2h-2zM715 437h2v2h-2zM715 434h2v2h-2zM716 434h2v2h-2zM716 436h2v2h-2zM717 435h2v2h-2zM718 434h2v2h-2zM718 435h2v2h-2zM719 436h2v2h-2zM719 437h2v2h-2zM720 437h2v2h-2zM720 435h2v2h-2zM721 436h2v2h-2zM721 437h2v2h-2zM722 437h2v2h-2zM722 434h2v2h-2zM723 438h2v2h-2zM723 436h2v2h-2zM724 438h2v2h-2zM725 435h2v2h-2zM725 436h2v2h-2zM726 437h2v2h-2zM726 435h2v2h-2zM727 436h2v2h-2zM728 437h2v2h-2zM728 436h2v2h-2zM729 435h2v2h-2zM729 434h2v2h-2zM730 435h2v2h-2zM731 435h2v2h-2zM732 432h2v2h-2zM732 434h2v2h-2zM733 435h2v2h-2zM734 437h2v2h-2zM734 434h2v2h-2zM735 436h2v2h-2zM735 437h2v2h-2zM736 436h2v2h-2zM736 435h2v2h-2zM737 435h2v2h-2zM738 434h2v2h-2zM738 436h2v2h-2zM739 436h2v2h-2zM739 435h2v2h-2zM740 434h2v2h-2zM741 434h2v2h-2zM741 436h2v2h-2zM742 436h2v2h-2zM742 433h2v2h-2zM743 436h2v2h-2zM744 435h2v2h-2zM745 435h2v2h-2zM745 437h2v2h-2zM746 436h2v2h-2zM746 434h2v2h-2zM747 437h2v2h-2zM747 436h2v2h-2zM748 436h2v2h-2zM748 435h2v2h-2zM749 436h2v2h-2zM749 434h2v2h-2zM750 435h2v2h-2zM750 434h2v2h-2zM751 434h2v2h-2zM752 436h2v2h-2zM752 438h2v2h-2zM753 437h2v2h-2zM753 436h2v2h-2zM754 438h2v2h-2zM754 435h2v2h-2zM755 436h2v2h-2zM755 435h2v2h-2zM756 435h2v2h-2zM756 438h2v2h-2zM757 437h2v2h-2zM757 436h2v2h-2zM758 436h2v2h-2zM759 439h2v2h-2zM759 436h2v2h-2zM760 434h2v2h-2zM761 434h2v2h-2zM761 438h2v2h-2zM762 437h2v2h-2zM762 436h2v2h-2zM763 436h2v2h-2zM763 437h2v2h-2zM764 437h2v2h-2zM765 435h2v2h-2zM765 434h2v2h-2zM766 437h2v2h-2zM766 436h2v2h-2zM767 436h2v2h-2zM767 437h2v2h-2zM768 438h2v2h-2zM768 437h2v2h-2zM769 435h2v2h-2zM770 437h2v2h-2zM770 436h2v2h-2zM771 433h2v2h-2zM772 436h2v2h-2zM772 434h2v2h-2zM773 434h2v2h-2zM773 437h2v2h-2zM774 436h2v2h-2zM775 436h2v2h-2zM775 433h2v2h-2zM776 434h2v2h-2zM776 437h2v2h-2zM777 436h2v2h-2zM778 437h2v2h-2zM779 436h2v2h-2zM779 434h2v2h-2zM780 435h2v2h-2zM781 436h2v2h-2zM781 435h2v2h-2zM782 436h2v2h-2zM782 437h2v2h-2zM783 435h2v2h-2zM784 433h2v2h-2zM784 435h2v2h-2zM785 437h2v2h-2zM786 435h2v2h-2zM786 436h2v2h-2zM787 435h2v2h-2zM787 433h2v2h-2zM788 439h2v2h-2zM788 436h2v2h-2zM789 436h2v2h-2zM789 435h2v2h-2zM790 436h2v2h-2zM790 435h2v2h-2zM791 435h2v2h-2zM792 434h2v2h-2zM792 435h2v2h-2zM793 435h2v2h-2zM793 436h2v2h-2zM794 436h2v2h-2zM795 434h2v2h-2zM796 435h2v2h-2zM796 438h2v2h-2zM797 438h2v2h-2zM797 437h2v2h-2zM798 435h2v2h-2zM799 437h2v2h-2zM800 434h2v2h-2zM801 435h2v2h-2zM802 434h2v2h-2zM802 436h2v2h-2zM803 434h2v2h-2zM803 438h2v2h-2zM804 436h2v2h-2zM804 434h2v2h-2zM805 434h2v2h-2zM806 436h2v2h-2zM806 435h2v2h-2zM807 434h2v2h-2zM807 437h2v2h-2zM808 436h2v2h-2zM809 436h2v2h-2zM809 435h2v2h-2zM810 437h2v2h-2zM810 436h2v2h-2zM811 436h2v2h-2zM811 435h2v2h-2zM812 434h2v2h-2zM813 436h2v2h-2zM814 438h2v2h-2zM814 434h2v2h-2zM815 436h2v2h-2zM815 438h2v2h-2zM816 438h2v2h-2zM816 435h2v2h-2zM817 434h2v2h-2zM818 435h2v2h-2zM819 436h2v2h-2zM820 437h2v2h-2zM821 435h2v2h-2zM821 437h2v2h-2zM822 437h2v2h-2zM822 436h2v2h-2zM823 436h2v2h-2zM823 434h2v2h-2zM824 436h2v2h-2zM824 437h2v2h-2zM825 436h2v2h-2zM826 436h2v2h-2zM826 437h2v2h-2zM827 437h2v2h-2zM827 435h2v2h-2zM828 437h2v2h-2zM828 433h2v2h-2zM829 434h2v2h-2zM829 435h2v2h-2zM830 436h2v2h-2zM830 435h2v2h-2zM831 436h2v2h-2zM832 434h2v2h-2zM833 438h2v2h-2zM833 436h2v2h-2zM834 434h2v2h-2zM834 435h2v2h-2zM835 436h2v2h-2zM836 435h2v2h-2zM836 434h2v2h-2zM837 436h2v2h-2zM837 434h2v2h-2zM838 437h2v2h-2zM838 435h2v2h-2zM839 437h2v2h-2zM840 437h2v2h-2zM840 434h2v2h-2zM841 441h2v2h-2zM841 434h2v2h-2zM842 438h2v2h-2zM842 435h2v2h-2zM843 434h2v2h-2zM843 436h2v2h-2zM844 435h2v2h-2zM844 436h2v2h-2zM845 437h2v2h-2zM846 435h2v2h-2zM846 437h2v2h-2zM847 435h2v2h-2zM847 436h2v2h-2zM848 436h2v2h-2zM849 439h2v2h-2zM849 436h2v2h-2zM850 437h2v2h-2zM850 436h2v2h-2zM851 436h2v2h-2zM852 439h2v2h-2zM853 436h2v2h-2zM853 435h2v2h-2zM854 434h2v2h-2zM854 437h2v2h-2zM855 435h2v2h-2zM855 436h2v2h-2zM856 436h2v2h-2zM856 435h2v2h-2zM857 437h2v2h-2zM857 435h2v2h-2zM858 434h2v2h-2zM858 436h2v2h-2zM859 436h2v2h-2zM860 437h2v2h-2zM861 435h2v2h-2zM861 440h2v2h-2zM862 439h2v2h-2zM862 434h2v2h-2zM863 435h2v2h-2zM863 436h2v2h-2zM864 435h2v2h-2zM864 434h2v2h-2zM865 438h2v2h-2zM865 439h2v2h-2zM866 435h2v2h-2zM867 436h2v2h-2zM868 437h2v2h-2zM868 434h2v2h-2zM869 435h2v2h-2zM869 436h2v2h-2zM870 435h2v2h-2zM870 436h2v2h-2zM871 433h2v2h-2zM871 435h2v2h-2zM872 437h2v2h-2zM873 437h2v2h-2zM873 435h2v2h-2zM874 436h2v2h-2zM874 437h2v2h-2zM875 436h2v2h-2zM875 434h2v2h-2zM876 436h2v2h-2zM876 434h2v2h-2zM877 435h2v2h-2zM877 438h2v2h-2zM878 435h2v2h-2zM879 436h2v2h-2zM880 436h2v2h-2zM880 437h2v2h-2zM881 435h2v2h-2zM882 435h2v2h-2zM882 434h2v2h-2zM883 435h2v2h-2zM883 434h2v2h-2zM884 435h2v2h-2zM884 436h2v2h-2zM885 438h2v2h-2zM886 436h2v2h-2zM887 435h2v2h-2zM887 434h2v2h-2zM888 437h2v2h-2zM888 436h2v2h-2zM889 438h2v2h-2zM889 436h2v2h-2zM890 435h2v2h-2zM890 436h2v2h-2zM891 436h2v2h-2zM891 434h2v2h-2zM892 436h2v2h-2zM892 438h2v2h-2zM893 436h2v2h-2zM894 435h2v2h-2zM894 436h2v2h-2zM895 435h2v2h-2zM895 437h2v2h-2zM896 435h2v2h-2zM897 434h2v2h-2zM897 435h2v2h-2zM898 436h2v2h-2zM898 437h2v2h-2zM159 330h2v2h-2z" fill="#000" shape-rendering="crispEdges"/><rect x="433.9" y="50.5" width="3" height="127.0" fill="#f00"/><rect x="619.1" y="50.5" width="3" height="127.0" fill="#f00"/><path d="M171.5 177.5v-6.3M171.5 50.5v6.3M326.5 177.5v-6.3M326.5 50.5v6.3M481.5 177.5v-6.3M481.5 50.5v6.3M636.5 177.5v-6.3M636.5 50.5v6.3M791.5 177.5v-6.3M791.5 50.5v6.3M125.5 161.5h6.3M900.5 161.5h-6.3M125.5 145.5h6.3M900.5 145.5h-6.3M125.5 129.5h6.3M900.5 129.5h-6.3M125.5 113.5h6.3M900.5 113.5h-6.3M125.5 97.5h6.3M900.5 97.5h-6.3M125.5 82.5h6.3M900.5 82.5h-6.3M125.5 66.5h6.3M900.5 66.5h-6.3" stroke="#000" stroke-width="0.65" fill="none"/><rect x="125.5" y="50.5" width="775.0" height="127.0" fill="none" stroke="#000" stroke-width="1" shape-rendering="crispEdges"/><rect x="433.9" y="187.5" width="3" height="126.0" fill="#f00"/><rect x="619.1" y="187.5" width="3" height="126.0" fill="#f00"/><path d="M171.5 313.5v-6.3M171.5 187.5v6.3M326.5 313.5v-6.3M326.5 187.5v6.3M481.5 313.5v-6.3M481.5 187.5v6.3M636.5 313.5v-6.3M636.5 187.5v6.3M791.5 313.5v-6.3M791.5 187.5v6.3M125.5 297.5h6.3M900.5 297.5h-6.3M125.5 282.5h6.3M900.5 282.5h-6.3M125.5 266.5h6.3M900.5 266.5h-6.3M125.5 250.5h6.3M900.5 250.5h-6.3M125.5 234.5h6.3M900.5 234.5h-6.3M125.5 218.5h6.3M900.5 218.5h-6.3M125.5 202.5h6.3M900.5 202.5h-6.3" stroke="#000" stroke-width="0.65" fill="none"/><rect x="125.5" y="187.5" width="775.0" height="126.0" fill="none" stroke="#000" stroke-width="1" shape-rendering="crispEdges"/><rect x="433.9" y="323.5" width="3" height="127.0" fill="#f00"/><rect x="619.1" y="323.5" width="3" height="127.0" fill="#f00"/><path d="M171.5 450.5v-6.3M171.5 323.5v6.3M326.5 450.5v-6.3M326.5 323.5v6.3M481.5 450.5v-6.3M481.5 323.5v6.3M636.5 450.5v-6.3M636.5 323.5v6.3M791.5 450.5v-6.3M791.5 323.5v6.3M125.5 434.5h6.3M900.5 434.5h-6.3M125.5 418.5h6.3M900.5 418.5h-6.3M125.5 403.5h6.3M900.5 403.5h-6.3M125.5 387.5h6.3M900.5 387.5h-6.3M125.5 371.5h6.3M900.5 371.5h-6.3M125.5 355.5h6.3M900.5 355.5h-6.3M125.5 339.5h6.3M900.5 339.5h-6.3" stroke="#000" stroke-width="0.65" fill="none"/><rect x="125.5" y="323.5" width="775.0" height="127.0" fill="none" stroke="#000" stroke-width="1" shape-rendering="crispEdges"/></svg>
<div class="t int" style="left:441px;top:55.0px;color:#f00;letter-spacing:0.75px">Interruption</div>
<div class="t yt" style="right:879.6px;top:59.7px;letter-spacing:0.9px">4</div>
<div class="t yt" style="right:879.6px;top:91.4px;letter-spacing:0.9px">2</div>
<div class="t yt" style="right:879.6px;top:123.0px;letter-spacing:0.9px">0</div>
<div class="t yt" style="right:880.3px;top:154.7px;letter-spacing:0.0px">-2</div>
<div class="yl" style="left:86.8px;top:154.0px;letter-spacing:0.72px">Log(p1 Rate)</div>
<div class="t int" style="left:441px;top:192.0px;color:#f00;letter-spacing:0.75px">Interruption</div>
<div class="t yt" style="right:879.6px;top:196.5px;letter-spacing:0.9px">4</div>
<div class="t yt" style="right:879.6px;top:228.1px;letter-spacing:0.9px">2</div>
<div class="t yt" style="right:879.6px;top:259.8px;letter-spacing:0.9px">0</div>
<div class="t yt" style="right:880.3px;top:291.4px;letter-spacing:0.0px">-2</div>
<div class="yl" style="left:86.8px;top:290.5px;letter-spacing:0.72px">Log(p2 Rate)</div>
<div class="t int" style="left:441px;top:328.0px;color:#f00;letter-spacing:0.75px">Interruption</div>
<div class="t yt" style="right:879.6px;top:333.3px;letter-spacing:0.9px">4</div>
<div class="t yt" style="right:879.6px;top:364.9px;letter-spacing:0.9px">2</div>
<div class="t yt" style="right:879.6px;top:396.6px;letter-spacing:0.9px">0</div>
<div class="t yt" style="right:880.3px;top:428.2px;letter-spacing:0.0px">-2</div>
<div class="yl" style="left:86.8px;top:427.0px;letter-spacing:0.72px">Log(p5 Rate)</div>
<div class="t xt" style="left:151.5px;top:454px;width:40px;text-align:center;letter-spacing:0.7px;text-indent:0px">249</div>
<div class="t xt" style="left:306.5px;top:454px;width:40px;text-align:center;letter-spacing:0.7px;text-indent:0px">250</div>
<div class="t xt" style="left:461.5px;top:454px;width:40px;text-align:center;letter-spacing:0.7px;text-indent:0px">251</div>
<div class="t xt" style="left:616.5px;top:454px;width:40px;text-align:center;letter-spacing:0.7px;text-indent:0px">252</div>
<div class="t xt" style="left:771.5px;top:454px;width:40px;text-align:center;letter-spacing:0.7px;text-indent:0px">253</div>
<div class="t xl" style="left:476.6px;top:470.5px;letter-spacing:0.55px">Day of Year</div>
</div></body></html>
